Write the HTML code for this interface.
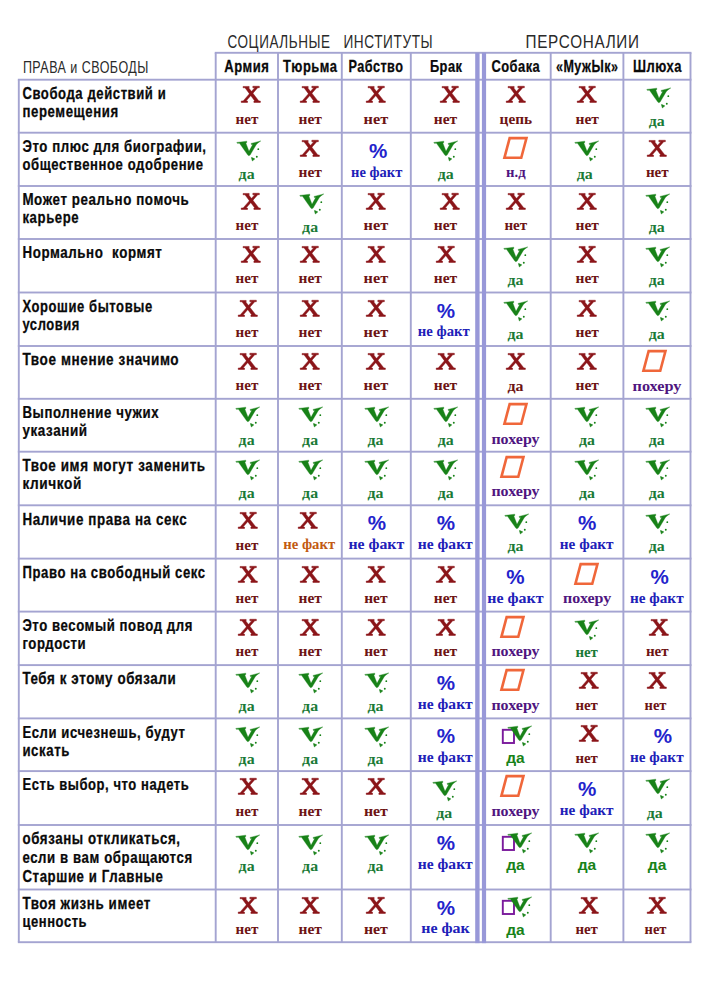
<!DOCTYPE html>
<html><head><meta charset="utf-8"><title>table</title>
<style>
html,body{margin:0;padding:0;background:#fff;}
body{width:712px;height:991px;position:relative;overflow:hidden;font-family:"Liberation Sans",sans-serif;}
.l{position:absolute;background:#a4a4d1;}
.t{position:absolute;white-space:nowrap;transform-origin:0 0;line-height:1;}
text{white-space:pre;}
.lb{font-family:"Liberation Sans",sans-serif;font-weight:bold;fill:#0a0a0a;stroke:#0a0a0a;stroke-width:0.25px;}
.hd{font-family:"Liberation Sans",sans-serif;font-weight:normal;fill:#2a2a2a;}
.sr{font-family:"Liberation Serif",serif;font-weight:bold;}
.ss{font-family:"Liberation Sans",sans-serif;font-weight:bold;}
svg{position:absolute;overflow:visible;}
</style></head><body>

<svg style="left:0;top:0" width="712" height="991" viewBox="0 0 712 991"><rect x="17.85" y="78.75" width="673.60" height="1.90" fill="#a4a4d1"/><rect x="17.85" y="131.75" width="673.60" height="1.90" fill="#a4a4d1"/><rect x="17.85" y="185.05" width="673.60" height="1.90" fill="#a4a4d1"/><rect x="17.85" y="238.05" width="673.60" height="1.90" fill="#a4a4d1"/><rect x="17.85" y="291.55" width="673.60" height="1.90" fill="#a4a4d1"/><rect x="17.85" y="345.05" width="673.60" height="1.90" fill="#a4a4d1"/><rect x="17.85" y="397.85" width="673.60" height="1.90" fill="#a4a4d1"/><rect x="17.85" y="450.75" width="673.60" height="1.90" fill="#a4a4d1"/><rect x="17.85" y="504.35" width="673.60" height="1.90" fill="#a4a4d1"/><rect x="17.85" y="557.65" width="673.60" height="1.90" fill="#a4a4d1"/><rect x="17.85" y="610.65" width="673.60" height="1.90" fill="#a4a4d1"/><rect x="17.85" y="664.15" width="673.60" height="1.90" fill="#a4a4d1"/><rect x="17.85" y="717.45" width="673.60" height="1.90" fill="#a4a4d1"/><rect x="17.85" y="770.15" width="673.60" height="1.90" fill="#a4a4d1"/><rect x="17.85" y="824.05" width="673.60" height="1.90" fill="#a4a4d1"/><rect x="17.85" y="888.55" width="673.60" height="1.90" fill="#a4a4d1"/><rect x="17.85" y="941.25" width="673.60" height="1.90" fill="#a4a4d1"/><rect x="214.75" y="51.85" width="476.70" height="1.90" fill="#a4a4d1"/><rect x="17.85" y="79.70" width="1.90" height="862.50" fill="#a4a4d1"/><rect x="214.75" y="52.80" width="1.90" height="889.40" fill="#a4a4d1"/><rect x="277.05" y="52.80" width="1.90" height="889.40" fill="#a4a4d1"/><rect x="340.85" y="52.80" width="1.90" height="889.40" fill="#a4a4d1"/><rect x="409.85" y="52.80" width="1.90" height="889.40" fill="#a4a4d1"/><rect x="549.75" y="52.80" width="1.90" height="889.40" fill="#a4a4d1"/><rect x="622.45" y="52.80" width="1.90" height="889.40" fill="#a4a4d1"/><rect x="689.55" y="52.80" width="1.90" height="889.40" fill="#a4a4d1"/><rect x="475.20" y="52.80" width="4.40" height="890.35" fill="#9898d8"/><rect x="481.90" y="52.80" width="4.20" height="890.35" fill="#9898d8"/></svg>
<svg style="left:240.65px;top:85.90px" width="21" height="18" viewBox="0 0 21 18"><g transform="translate(0.25,0.25) scale(0.965,0.965)" fill="#8b1519" stroke="#8b1519" stroke-width="0.52" stroke-linejoin="round"><path d="M1.9,0.2 L8.2,0.2 L8.2,1.6 L7.6,1.6 L18.2,15.2 L19.8,15.3 L19.8,16.8 L13.1,16.8 L13.1,15.3 L14.0,15.2 L3.9,1.6 L1.9,1.6 Z"/><path d="M12.0,0.0 L18.75,0.0 L18.75,1.5 L17.1,1.5 L5.0,15.2 L6.5,15.3 L6.5,16.8 L0,16.8 L0,15.3 L2.0,15.2 L14.0,1.5 L12.0,1.5 Z"/></g></svg>
<svg style="left:300.35px;top:85.90px" width="21" height="18" viewBox="0 0 21 18"><g transform="translate(0.25,0.25) scale(0.965,0.965)" fill="#8b1519" stroke="#8b1519" stroke-width="0.52" stroke-linejoin="round"><path d="M1.9,0.2 L8.2,0.2 L8.2,1.6 L7.6,1.6 L18.2,15.2 L19.8,15.3 L19.8,16.8 L13.1,16.8 L13.1,15.3 L14.0,15.2 L3.9,1.6 L1.9,1.6 Z"/><path d="M12.0,0.0 L18.75,0.0 L18.75,1.5 L17.1,1.5 L5.0,15.2 L6.5,15.3 L6.5,16.8 L0,16.8 L0,15.3 L2.0,15.2 L14.0,1.5 L12.0,1.5 Z"/></g></svg>
<svg style="left:366.35px;top:85.90px" width="21" height="18" viewBox="0 0 21 18"><g transform="translate(0.25,0.25) scale(0.965,0.965)" fill="#8b1519" stroke="#8b1519" stroke-width="0.52" stroke-linejoin="round"><path d="M1.9,0.2 L8.2,0.2 L8.2,1.6 L7.6,1.6 L18.2,15.2 L19.8,15.3 L19.8,16.8 L13.1,16.8 L13.1,15.3 L14.0,15.2 L3.9,1.6 L1.9,1.6 Z"/><path d="M12.0,0.0 L18.75,0.0 L18.75,1.5 L17.1,1.5 L5.0,15.2 L6.5,15.3 L6.5,16.8 L0,16.8 L0,15.3 L2.0,15.2 L14.0,1.5 L12.0,1.5 Z"/></g></svg>
<svg style="left:440.05px;top:85.90px" width="21" height="18" viewBox="0 0 21 18"><g transform="translate(0.25,0.25) scale(0.965,0.965)" fill="#8b1519" stroke="#8b1519" stroke-width="0.52" stroke-linejoin="round"><path d="M1.9,0.2 L8.2,0.2 L8.2,1.6 L7.6,1.6 L18.2,15.2 L19.8,15.3 L19.8,16.8 L13.1,16.8 L13.1,15.3 L14.0,15.2 L3.9,1.6 L1.9,1.6 Z"/><path d="M12.0,0.0 L18.75,0.0 L18.75,1.5 L17.1,1.5 L5.0,15.2 L6.5,15.3 L6.5,16.8 L0,16.8 L0,15.3 L2.0,15.2 L14.0,1.5 L12.0,1.5 Z"/></g></svg>
<svg style="left:505.65px;top:85.90px" width="21" height="18" viewBox="0 0 21 18"><g transform="translate(0.25,0.25) scale(0.965,0.965)" fill="#8b1519" stroke="#8b1519" stroke-width="0.52" stroke-linejoin="round"><path d="M1.9,0.2 L8.2,0.2 L8.2,1.6 L7.6,1.6 L18.2,15.2 L19.8,15.3 L19.8,16.8 L13.1,16.8 L13.1,15.3 L14.0,15.2 L3.9,1.6 L1.9,1.6 Z"/><path d="M12.0,0.0 L18.75,0.0 L18.75,1.5 L17.1,1.5 L5.0,15.2 L6.5,15.3 L6.5,16.8 L0,16.8 L0,15.3 L2.0,15.2 L14.0,1.5 L12.0,1.5 Z"/></g></svg>
<svg style="left:577.05px;top:85.90px" width="21" height="18" viewBox="0 0 21 18"><g transform="translate(0.25,0.25) scale(0.965,0.965)" fill="#8b1519" stroke="#8b1519" stroke-width="0.52" stroke-linejoin="round"><path d="M1.9,0.2 L8.2,0.2 L8.2,1.6 L7.6,1.6 L18.2,15.2 L19.8,15.3 L19.8,16.8 L13.1,16.8 L13.1,15.3 L14.0,15.2 L3.9,1.6 L1.9,1.6 Z"/><path d="M12.0,0.0 L18.75,0.0 L18.75,1.5 L17.1,1.5 L5.0,15.2 L6.5,15.3 L6.5,16.8 L0,16.8 L0,15.3 L2.0,15.2 L14.0,1.5 L12.0,1.5 Z"/></g></svg>
<svg style="left:641.90px;top:83.00px" width="32" height="28" viewBox="0 0 32 28"><g fill="#188218"><path d="M4.8,6.4 L14.8,5.2 L14.7,6.7 L13.8,6.9 L17.0,15.3 L20.7,8.5 L19.3,8.4 L19.1,7.4 L28.8,4.9 L26.0,6.9 L24.4,8.4 L18.1,19.1 L16.8,19.7 L15.8,19.1 L7.5,7.3 L5.2,7.3 Z" stroke="#188218" stroke-width="0.35" stroke-linejoin="round"/><circle cx="26.3" cy="13.2" r="0.9"/><circle cx="24.8" cy="20.8" r="0.95"/><path d="M19.6,21.6 L22.6,22.9 L20.4,24.8 Z" stroke="#188218" stroke-width="0.8" stroke-linejoin="round"/></g></svg>
<svg style="left:232.40px;top:136.00px" width="32" height="28" viewBox="0 0 32 28"><g fill="#188218"><path d="M4.8,6.4 L14.8,5.2 L14.7,6.7 L13.8,6.9 L17.0,15.3 L20.7,8.5 L19.3,8.4 L19.1,7.4 L28.8,4.9 L26.0,6.9 L24.4,8.4 L18.1,19.1 L16.8,19.7 L15.8,19.1 L7.5,7.3 L5.2,7.3 Z" stroke="#188218" stroke-width="0.35" stroke-linejoin="round"/><circle cx="26.3" cy="13.2" r="0.9"/><circle cx="24.8" cy="20.8" r="0.95"/><path d="M19.6,21.6 L22.6,22.9 L20.4,24.8 Z" stroke="#188218" stroke-width="0.8" stroke-linejoin="round"/></g></svg>
<svg style="left:300.35px;top:139.70px" width="21" height="18" viewBox="0 0 21 18"><g transform="translate(0.25,0.25) scale(0.965,0.965)" fill="#8b1519" stroke="#8b1519" stroke-width="0.52" stroke-linejoin="round"><path d="M1.9,0.2 L8.2,0.2 L8.2,1.6 L7.6,1.6 L18.2,15.2 L19.8,15.3 L19.8,16.8 L13.1,16.8 L13.1,15.3 L14.0,15.2 L3.9,1.6 L1.9,1.6 Z"/><path d="M12.0,0.0 L18.75,0.0 L18.75,1.5 L17.1,1.5 L5.0,15.2 L6.5,15.3 L6.5,16.8 L0,16.8 L0,15.3 L2.0,15.2 L14.0,1.5 L12.0,1.5 Z"/></g></svg>
<svg style="left:428.70px;top:136.00px" width="32" height="28" viewBox="0 0 32 28"><g fill="#188218"><path d="M4.8,6.4 L14.8,5.2 L14.7,6.7 L13.8,6.9 L17.0,15.3 L20.7,8.5 L19.3,8.4 L19.1,7.4 L28.8,4.9 L26.0,6.9 L24.4,8.4 L18.1,19.1 L16.8,19.7 L15.8,19.1 L7.5,7.3 L5.2,7.3 Z" stroke="#188218" stroke-width="0.35" stroke-linejoin="round"/><circle cx="26.3" cy="13.2" r="0.9"/><circle cx="24.8" cy="20.8" r="0.95"/><path d="M19.6,21.6 L22.6,22.9 L20.4,24.8 Z" stroke="#188218" stroke-width="0.8" stroke-linejoin="round"/></g></svg>
<svg style="left:502.75px;top:136.70px" width="26" height="23" viewBox="0 0 26 23"><path d="M6.65,1.1 L23.47,1.1 L18.25,20.8 L1.43,20.8 Z" fill="none" stroke="#f0673a" stroke-width="2.6"/></svg>
<svg style="left:570.20px;top:136.00px" width="32" height="28" viewBox="0 0 32 28"><g fill="#188218"><path d="M4.8,6.4 L14.8,5.2 L14.7,6.7 L13.8,6.9 L17.0,15.3 L20.7,8.5 L19.3,8.4 L19.1,7.4 L28.8,4.9 L26.0,6.9 L24.4,8.4 L18.1,19.1 L16.8,19.7 L15.8,19.1 L7.5,7.3 L5.2,7.3 Z" stroke="#188218" stroke-width="0.35" stroke-linejoin="round"/><circle cx="26.3" cy="13.2" r="0.9"/><circle cx="24.8" cy="20.8" r="0.95"/><path d="M19.6,21.6 L22.6,22.9 L20.4,24.8 Z" stroke="#188218" stroke-width="0.8" stroke-linejoin="round"/></g></svg>
<svg style="left:646.95px;top:139.70px" width="21" height="18" viewBox="0 0 21 18"><g transform="translate(0.25,0.25) scale(0.965,0.965)" fill="#8b1519" stroke="#8b1519" stroke-width="0.52" stroke-linejoin="round"><path d="M1.9,0.2 L8.2,0.2 L8.2,1.6 L7.6,1.6 L18.2,15.2 L19.8,15.3 L19.8,16.8 L13.1,16.8 L13.1,15.3 L14.0,15.2 L3.9,1.6 L1.9,1.6 Z"/><path d="M12.0,0.0 L18.75,0.0 L18.75,1.5 L17.1,1.5 L5.0,15.2 L6.5,15.3 L6.5,16.8 L0,16.8 L0,15.3 L2.0,15.2 L14.0,1.5 L12.0,1.5 Z"/></g></svg>
<svg style="left:240.65px;top:193.00px" width="21" height="18" viewBox="0 0 21 18"><g transform="translate(0.25,0.25) scale(0.965,0.965)" fill="#8b1519" stroke="#8b1519" stroke-width="0.52" stroke-linejoin="round"><path d="M1.9,0.2 L8.2,0.2 L8.2,1.6 L7.6,1.6 L18.2,15.2 L19.8,15.3 L19.8,16.8 L13.1,16.8 L13.1,15.3 L14.0,15.2 L3.9,1.6 L1.9,1.6 Z"/><path d="M12.0,0.0 L18.75,0.0 L18.75,1.5 L17.1,1.5 L5.0,15.2 L6.5,15.3 L6.5,16.8 L0,16.8 L0,15.3 L2.0,15.2 L14.0,1.5 L12.0,1.5 Z"/></g></svg>
<svg style="left:295.20px;top:189.30px" width="32" height="28" viewBox="0 0 32 28"><g fill="#188218"><path d="M4.8,6.4 L14.8,5.2 L14.7,6.7 L13.8,6.9 L17.0,15.3 L20.7,8.5 L19.3,8.4 L19.1,7.4 L28.8,4.9 L26.0,6.9 L24.4,8.4 L18.1,19.1 L16.8,19.7 L15.8,19.1 L7.5,7.3 L5.2,7.3 Z" stroke="#188218" stroke-width="0.35" stroke-linejoin="round"/><circle cx="26.3" cy="13.2" r="0.9"/><circle cx="24.8" cy="20.8" r="0.95"/><path d="M19.6,21.6 L22.6,22.9 L20.4,24.8 Z" stroke="#188218" stroke-width="0.8" stroke-linejoin="round"/></g></svg>
<svg style="left:366.35px;top:193.00px" width="21" height="18" viewBox="0 0 21 18"><g transform="translate(0.25,0.25) scale(0.965,0.965)" fill="#8b1519" stroke="#8b1519" stroke-width="0.52" stroke-linejoin="round"><path d="M1.9,0.2 L8.2,0.2 L8.2,1.6 L7.6,1.6 L18.2,15.2 L19.8,15.3 L19.8,16.8 L13.1,16.8 L13.1,15.3 L14.0,15.2 L3.9,1.6 L1.9,1.6 Z"/><path d="M12.0,0.0 L18.75,0.0 L18.75,1.5 L17.1,1.5 L5.0,15.2 L6.5,15.3 L6.5,16.8 L0,16.8 L0,15.3 L2.0,15.2 L14.0,1.5 L12.0,1.5 Z"/></g></svg>
<svg style="left:440.05px;top:193.00px" width="21" height="18" viewBox="0 0 21 18"><g transform="translate(0.25,0.25) scale(0.965,0.965)" fill="#8b1519" stroke="#8b1519" stroke-width="0.52" stroke-linejoin="round"><path d="M1.9,0.2 L8.2,0.2 L8.2,1.6 L7.6,1.6 L18.2,15.2 L19.8,15.3 L19.8,16.8 L13.1,16.8 L13.1,15.3 L14.0,15.2 L3.9,1.6 L1.9,1.6 Z"/><path d="M12.0,0.0 L18.75,0.0 L18.75,1.5 L17.1,1.5 L5.0,15.2 L6.5,15.3 L6.5,16.8 L0,16.8 L0,15.3 L2.0,15.2 L14.0,1.5 L12.0,1.5 Z"/></g></svg>
<svg style="left:505.65px;top:193.00px" width="21" height="18" viewBox="0 0 21 18"><g transform="translate(0.25,0.25) scale(0.965,0.965)" fill="#8b1519" stroke="#8b1519" stroke-width="0.52" stroke-linejoin="round"><path d="M1.9,0.2 L8.2,0.2 L8.2,1.6 L7.6,1.6 L18.2,15.2 L19.8,15.3 L19.8,16.8 L13.1,16.8 L13.1,15.3 L14.0,15.2 L3.9,1.6 L1.9,1.6 Z"/><path d="M12.0,0.0 L18.75,0.0 L18.75,1.5 L17.1,1.5 L5.0,15.2 L6.5,15.3 L6.5,16.8 L0,16.8 L0,15.3 L2.0,15.2 L14.0,1.5 L12.0,1.5 Z"/></g></svg>
<svg style="left:577.05px;top:193.00px" width="21" height="18" viewBox="0 0 21 18"><g transform="translate(0.25,0.25) scale(0.965,0.965)" fill="#8b1519" stroke="#8b1519" stroke-width="0.52" stroke-linejoin="round"><path d="M1.9,0.2 L8.2,0.2 L8.2,1.6 L7.6,1.6 L18.2,15.2 L19.8,15.3 L19.8,16.8 L13.1,16.8 L13.1,15.3 L14.0,15.2 L3.9,1.6 L1.9,1.6 Z"/><path d="M12.0,0.0 L18.75,0.0 L18.75,1.5 L17.1,1.5 L5.0,15.2 L6.5,15.3 L6.5,16.8 L0,16.8 L0,15.3 L2.0,15.2 L14.0,1.5 L12.0,1.5 Z"/></g></svg>
<svg style="left:641.10px;top:189.30px" width="32" height="28" viewBox="0 0 32 28"><g fill="#188218"><path d="M4.8,6.4 L14.8,5.2 L14.7,6.7 L13.8,6.9 L17.0,15.3 L20.7,8.5 L19.3,8.4 L19.1,7.4 L28.8,4.9 L26.0,6.9 L24.4,8.4 L18.1,19.1 L16.8,19.7 L15.8,19.1 L7.5,7.3 L5.2,7.3 Z" stroke="#188218" stroke-width="0.35" stroke-linejoin="round"/><circle cx="26.3" cy="13.2" r="0.9"/><circle cx="24.8" cy="20.8" r="0.95"/><path d="M19.6,21.6 L22.6,22.9 L20.4,24.8 Z" stroke="#188218" stroke-width="0.8" stroke-linejoin="round"/></g></svg>
<svg style="left:240.65px;top:246.00px" width="21" height="18" viewBox="0 0 21 18"><g transform="translate(0.25,0.25) scale(0.965,0.965)" fill="#8b1519" stroke="#8b1519" stroke-width="0.52" stroke-linejoin="round"><path d="M1.9,0.2 L8.2,0.2 L8.2,1.6 L7.6,1.6 L18.2,15.2 L19.8,15.3 L19.8,16.8 L13.1,16.8 L13.1,15.3 L14.0,15.2 L3.9,1.6 L1.9,1.6 Z"/><path d="M12.0,0.0 L18.75,0.0 L18.75,1.5 L17.1,1.5 L5.0,15.2 L6.5,15.3 L6.5,16.8 L0,16.8 L0,15.3 L2.0,15.2 L14.0,1.5 L12.0,1.5 Z"/></g></svg>
<svg style="left:300.35px;top:246.00px" width="21" height="18" viewBox="0 0 21 18"><g transform="translate(0.25,0.25) scale(0.965,0.965)" fill="#8b1519" stroke="#8b1519" stroke-width="0.52" stroke-linejoin="round"><path d="M1.9,0.2 L8.2,0.2 L8.2,1.6 L7.6,1.6 L18.2,15.2 L19.8,15.3 L19.8,16.8 L13.1,16.8 L13.1,15.3 L14.0,15.2 L3.9,1.6 L1.9,1.6 Z"/><path d="M12.0,0.0 L18.75,0.0 L18.75,1.5 L17.1,1.5 L5.0,15.2 L6.5,15.3 L6.5,16.8 L0,16.8 L0,15.3 L2.0,15.2 L14.0,1.5 L12.0,1.5 Z"/></g></svg>
<svg style="left:366.35px;top:246.00px" width="21" height="18" viewBox="0 0 21 18"><g transform="translate(0.25,0.25) scale(0.965,0.965)" fill="#8b1519" stroke="#8b1519" stroke-width="0.52" stroke-linejoin="round"><path d="M1.9,0.2 L8.2,0.2 L8.2,1.6 L7.6,1.6 L18.2,15.2 L19.8,15.3 L19.8,16.8 L13.1,16.8 L13.1,15.3 L14.0,15.2 L3.9,1.6 L1.9,1.6 Z"/><path d="M12.0,0.0 L18.75,0.0 L18.75,1.5 L17.1,1.5 L5.0,15.2 L6.5,15.3 L6.5,16.8 L0,16.8 L0,15.3 L2.0,15.2 L14.0,1.5 L12.0,1.5 Z"/></g></svg>
<svg style="left:435.55px;top:246.00px" width="21" height="18" viewBox="0 0 21 18"><g transform="translate(0.25,0.25) scale(0.965,0.965)" fill="#8b1519" stroke="#8b1519" stroke-width="0.52" stroke-linejoin="round"><path d="M1.9,0.2 L8.2,0.2 L8.2,1.6 L7.6,1.6 L18.2,15.2 L19.8,15.3 L19.8,16.8 L13.1,16.8 L13.1,15.3 L14.0,15.2 L3.9,1.6 L1.9,1.6 Z"/><path d="M12.0,0.0 L18.75,0.0 L18.75,1.5 L17.1,1.5 L5.0,15.2 L6.5,15.3 L6.5,16.8 L0,16.8 L0,15.3 L2.0,15.2 L14.0,1.5 L12.0,1.5 Z"/></g></svg>
<svg style="left:498.60px;top:242.30px" width="32" height="28" viewBox="0 0 32 28"><g fill="#188218"><path d="M4.8,6.4 L14.8,5.2 L14.7,6.7 L13.8,6.9 L17.0,15.3 L20.7,8.5 L19.3,8.4 L19.1,7.4 L28.8,4.9 L26.0,6.9 L24.4,8.4 L18.1,19.1 L16.8,19.7 L15.8,19.1 L7.5,7.3 L5.2,7.3 Z" stroke="#188218" stroke-width="0.35" stroke-linejoin="round"/><circle cx="26.3" cy="13.2" r="0.9"/><circle cx="24.8" cy="20.8" r="0.95"/><path d="M19.6,21.6 L22.6,22.9 L20.4,24.8 Z" stroke="#188218" stroke-width="0.8" stroke-linejoin="round"/></g></svg>
<svg style="left:577.05px;top:246.00px" width="21" height="18" viewBox="0 0 21 18"><g transform="translate(0.25,0.25) scale(0.965,0.965)" fill="#8b1519" stroke="#8b1519" stroke-width="0.52" stroke-linejoin="round"><path d="M1.9,0.2 L8.2,0.2 L8.2,1.6 L7.6,1.6 L18.2,15.2 L19.8,15.3 L19.8,16.8 L13.1,16.8 L13.1,15.3 L14.0,15.2 L3.9,1.6 L1.9,1.6 Z"/><path d="M12.0,0.0 L18.75,0.0 L18.75,1.5 L17.1,1.5 L5.0,15.2 L6.5,15.3 L6.5,16.8 L0,16.8 L0,15.3 L2.0,15.2 L14.0,1.5 L12.0,1.5 Z"/></g></svg>
<svg style="left:640.50px;top:242.30px" width="32" height="28" viewBox="0 0 32 28"><g fill="#188218"><path d="M4.8,6.4 L14.8,5.2 L14.7,6.7 L13.8,6.9 L17.0,15.3 L20.7,8.5 L19.3,8.4 L19.1,7.4 L28.8,4.9 L26.0,6.9 L24.4,8.4 L18.1,19.1 L16.8,19.7 L15.8,19.1 L7.5,7.3 L5.2,7.3 Z" stroke="#188218" stroke-width="0.35" stroke-linejoin="round"/><circle cx="26.3" cy="13.2" r="0.9"/><circle cx="24.8" cy="20.8" r="0.95"/><path d="M19.6,21.6 L22.6,22.9 L20.4,24.8 Z" stroke="#188218" stroke-width="0.8" stroke-linejoin="round"/></g></svg>
<svg style="left:237.75px;top:299.50px" width="21" height="18" viewBox="0 0 21 18"><g transform="translate(0.25,0.25) scale(0.965,0.965)" fill="#8b1519" stroke="#8b1519" stroke-width="0.52" stroke-linejoin="round"><path d="M1.9,0.2 L8.2,0.2 L8.2,1.6 L7.6,1.6 L18.2,15.2 L19.8,15.3 L19.8,16.8 L13.1,16.8 L13.1,15.3 L14.0,15.2 L3.9,1.6 L1.9,1.6 Z"/><path d="M12.0,0.0 L18.75,0.0 L18.75,1.5 L17.1,1.5 L5.0,15.2 L6.5,15.3 L6.5,16.8 L0,16.8 L0,15.3 L2.0,15.2 L14.0,1.5 L12.0,1.5 Z"/></g></svg>
<svg style="left:300.35px;top:299.50px" width="21" height="18" viewBox="0 0 21 18"><g transform="translate(0.25,0.25) scale(0.965,0.965)" fill="#8b1519" stroke="#8b1519" stroke-width="0.52" stroke-linejoin="round"><path d="M1.9,0.2 L8.2,0.2 L8.2,1.6 L7.6,1.6 L18.2,15.2 L19.8,15.3 L19.8,16.8 L13.1,16.8 L13.1,15.3 L14.0,15.2 L3.9,1.6 L1.9,1.6 Z"/><path d="M12.0,0.0 L18.75,0.0 L18.75,1.5 L17.1,1.5 L5.0,15.2 L6.5,15.3 L6.5,16.8 L0,16.8 L0,15.3 L2.0,15.2 L14.0,1.5 L12.0,1.5 Z"/></g></svg>
<svg style="left:366.35px;top:299.50px" width="21" height="18" viewBox="0 0 21 18"><g transform="translate(0.25,0.25) scale(0.965,0.965)" fill="#8b1519" stroke="#8b1519" stroke-width="0.52" stroke-linejoin="round"><path d="M1.9,0.2 L8.2,0.2 L8.2,1.6 L7.6,1.6 L18.2,15.2 L19.8,15.3 L19.8,16.8 L13.1,16.8 L13.1,15.3 L14.0,15.2 L3.9,1.6 L1.9,1.6 Z"/><path d="M12.0,0.0 L18.75,0.0 L18.75,1.5 L17.1,1.5 L5.0,15.2 L6.5,15.3 L6.5,16.8 L0,16.8 L0,15.3 L2.0,15.2 L14.0,1.5 L12.0,1.5 Z"/></g></svg>
<svg style="left:498.60px;top:295.80px" width="32" height="28" viewBox="0 0 32 28"><g fill="#188218"><path d="M4.8,6.4 L14.8,5.2 L14.7,6.7 L13.8,6.9 L17.0,15.3 L20.7,8.5 L19.3,8.4 L19.1,7.4 L28.8,4.9 L26.0,6.9 L24.4,8.4 L18.1,19.1 L16.8,19.7 L15.8,19.1 L7.5,7.3 L5.2,7.3 Z" stroke="#188218" stroke-width="0.35" stroke-linejoin="round"/><circle cx="26.3" cy="13.2" r="0.9"/><circle cx="24.8" cy="20.8" r="0.95"/><path d="M19.6,21.6 L22.6,22.9 L20.4,24.8 Z" stroke="#188218" stroke-width="0.8" stroke-linejoin="round"/></g></svg>
<svg style="left:577.05px;top:299.50px" width="21" height="18" viewBox="0 0 21 18"><g transform="translate(0.25,0.25) scale(0.965,0.965)" fill="#8b1519" stroke="#8b1519" stroke-width="0.52" stroke-linejoin="round"><path d="M1.9,0.2 L8.2,0.2 L8.2,1.6 L7.6,1.6 L18.2,15.2 L19.8,15.3 L19.8,16.8 L13.1,16.8 L13.1,15.3 L14.0,15.2 L3.9,1.6 L1.9,1.6 Z"/><path d="M12.0,0.0 L18.75,0.0 L18.75,1.5 L17.1,1.5 L5.0,15.2 L6.5,15.3 L6.5,16.8 L0,16.8 L0,15.3 L2.0,15.2 L14.0,1.5 L12.0,1.5 Z"/></g></svg>
<svg style="left:640.50px;top:295.80px" width="32" height="28" viewBox="0 0 32 28"><g fill="#188218"><path d="M4.8,6.4 L14.8,5.2 L14.7,6.7 L13.8,6.9 L17.0,15.3 L20.7,8.5 L19.3,8.4 L19.1,7.4 L28.8,4.9 L26.0,6.9 L24.4,8.4 L18.1,19.1 L16.8,19.7 L15.8,19.1 L7.5,7.3 L5.2,7.3 Z" stroke="#188218" stroke-width="0.35" stroke-linejoin="round"/><circle cx="26.3" cy="13.2" r="0.9"/><circle cx="24.8" cy="20.8" r="0.95"/><path d="M19.6,21.6 L22.6,22.9 L20.4,24.8 Z" stroke="#188218" stroke-width="0.8" stroke-linejoin="round"/></g></svg>
<svg style="left:237.75px;top:353.00px" width="21" height="18" viewBox="0 0 21 18"><g transform="translate(0.25,0.25) scale(0.965,0.965)" fill="#8b1519" stroke="#8b1519" stroke-width="0.52" stroke-linejoin="round"><path d="M1.9,0.2 L8.2,0.2 L8.2,1.6 L7.6,1.6 L18.2,15.2 L19.8,15.3 L19.8,16.8 L13.1,16.8 L13.1,15.3 L14.0,15.2 L3.9,1.6 L1.9,1.6 Z"/><path d="M12.0,0.0 L18.75,0.0 L18.75,1.5 L17.1,1.5 L5.0,15.2 L6.5,15.3 L6.5,16.8 L0,16.8 L0,15.3 L2.0,15.2 L14.0,1.5 L12.0,1.5 Z"/></g></svg>
<svg style="left:300.35px;top:353.00px" width="21" height="18" viewBox="0 0 21 18"><g transform="translate(0.25,0.25) scale(0.965,0.965)" fill="#8b1519" stroke="#8b1519" stroke-width="0.52" stroke-linejoin="round"><path d="M1.9,0.2 L8.2,0.2 L8.2,1.6 L7.6,1.6 L18.2,15.2 L19.8,15.3 L19.8,16.8 L13.1,16.8 L13.1,15.3 L14.0,15.2 L3.9,1.6 L1.9,1.6 Z"/><path d="M12.0,0.0 L18.75,0.0 L18.75,1.5 L17.1,1.5 L5.0,15.2 L6.5,15.3 L6.5,16.8 L0,16.8 L0,15.3 L2.0,15.2 L14.0,1.5 L12.0,1.5 Z"/></g></svg>
<svg style="left:366.35px;top:353.00px" width="21" height="18" viewBox="0 0 21 18"><g transform="translate(0.25,0.25) scale(0.965,0.965)" fill="#8b1519" stroke="#8b1519" stroke-width="0.52" stroke-linejoin="round"><path d="M1.9,0.2 L8.2,0.2 L8.2,1.6 L7.6,1.6 L18.2,15.2 L19.8,15.3 L19.8,16.8 L13.1,16.8 L13.1,15.3 L14.0,15.2 L3.9,1.6 L1.9,1.6 Z"/><path d="M12.0,0.0 L18.75,0.0 L18.75,1.5 L17.1,1.5 L5.0,15.2 L6.5,15.3 L6.5,16.8 L0,16.8 L0,15.3 L2.0,15.2 L14.0,1.5 L12.0,1.5 Z"/></g></svg>
<svg style="left:435.55px;top:353.00px" width="21" height="18" viewBox="0 0 21 18"><g transform="translate(0.25,0.25) scale(0.965,0.965)" fill="#8b1519" stroke="#8b1519" stroke-width="0.52" stroke-linejoin="round"><path d="M1.9,0.2 L8.2,0.2 L8.2,1.6 L7.6,1.6 L18.2,15.2 L19.8,15.3 L19.8,16.8 L13.1,16.8 L13.1,15.3 L14.0,15.2 L3.9,1.6 L1.9,1.6 Z"/><path d="M12.0,0.0 L18.75,0.0 L18.75,1.5 L17.1,1.5 L5.0,15.2 L6.5,15.3 L6.5,16.8 L0,16.8 L0,15.3 L2.0,15.2 L14.0,1.5 L12.0,1.5 Z"/></g></svg>
<svg style="left:505.65px;top:353.00px" width="21" height="18" viewBox="0 0 21 18"><g transform="translate(0.25,0.25) scale(0.965,0.965)" fill="#8b1519" stroke="#8b1519" stroke-width="0.52" stroke-linejoin="round"><path d="M1.9,0.2 L8.2,0.2 L8.2,1.6 L7.6,1.6 L18.2,15.2 L19.8,15.3 L19.8,16.8 L13.1,16.8 L13.1,15.3 L14.0,15.2 L3.9,1.6 L1.9,1.6 Z"/><path d="M12.0,0.0 L18.75,0.0 L18.75,1.5 L17.1,1.5 L5.0,15.2 L6.5,15.3 L6.5,16.8 L0,16.8 L0,15.3 L2.0,15.2 L14.0,1.5 L12.0,1.5 Z"/></g></svg>
<svg style="left:577.05px;top:353.00px" width="21" height="18" viewBox="0 0 21 18"><g transform="translate(0.25,0.25) scale(0.965,0.965)" fill="#8b1519" stroke="#8b1519" stroke-width="0.52" stroke-linejoin="round"><path d="M1.9,0.2 L8.2,0.2 L8.2,1.6 L7.6,1.6 L18.2,15.2 L19.8,15.3 L19.8,16.8 L13.1,16.8 L13.1,15.3 L14.0,15.2 L3.9,1.6 L1.9,1.6 Z"/><path d="M12.0,0.0 L18.75,0.0 L18.75,1.5 L17.1,1.5 L5.0,15.2 L6.5,15.3 L6.5,16.8 L0,16.8 L0,15.3 L2.0,15.2 L14.0,1.5 L12.0,1.5 Z"/></g></svg>
<svg style="left:642.25px;top:350.00px" width="26" height="23" viewBox="0 0 26 23"><path d="M6.65,1.1 L23.47,1.1 L18.25,20.8 L1.43,20.8 Z" fill="none" stroke="#f0673a" stroke-width="2.6"/></svg>
<svg style="left:230.70px;top:402.10px" width="32" height="28" viewBox="0 0 32 28"><g fill="#188218"><path d="M4.8,6.4 L14.8,5.2 L14.7,6.7 L13.8,6.9 L17.0,15.3 L20.7,8.5 L19.3,8.4 L19.1,7.4 L28.8,4.9 L26.0,6.9 L24.4,8.4 L18.1,19.1 L16.8,19.7 L15.8,19.1 L7.5,7.3 L5.2,7.3 Z" stroke="#188218" stroke-width="0.35" stroke-linejoin="round"/><circle cx="26.3" cy="13.2" r="0.9"/><circle cx="24.8" cy="20.8" r="0.95"/><path d="M19.6,21.6 L22.6,22.9 L20.4,24.8 Z" stroke="#188218" stroke-width="0.8" stroke-linejoin="round"/></g></svg>
<svg style="left:294.10px;top:402.10px" width="32" height="28" viewBox="0 0 32 28"><g fill="#188218"><path d="M4.8,6.4 L14.8,5.2 L14.7,6.7 L13.8,6.9 L17.0,15.3 L20.7,8.5 L19.3,8.4 L19.1,7.4 L28.8,4.9 L26.0,6.9 L24.4,8.4 L18.1,19.1 L16.8,19.7 L15.8,19.1 L7.5,7.3 L5.2,7.3 Z" stroke="#188218" stroke-width="0.35" stroke-linejoin="round"/><circle cx="26.3" cy="13.2" r="0.9"/><circle cx="24.8" cy="20.8" r="0.95"/><path d="M19.6,21.6 L22.6,22.9 L20.4,24.8 Z" stroke="#188218" stroke-width="0.8" stroke-linejoin="round"/></g></svg>
<svg style="left:359.70px;top:402.10px" width="32" height="28" viewBox="0 0 32 28"><g fill="#188218"><path d="M4.8,6.4 L14.8,5.2 L14.7,6.7 L13.8,6.9 L17.0,15.3 L20.7,8.5 L19.3,8.4 L19.1,7.4 L28.8,4.9 L26.0,6.9 L24.4,8.4 L18.1,19.1 L16.8,19.7 L15.8,19.1 L7.5,7.3 L5.2,7.3 Z" stroke="#188218" stroke-width="0.35" stroke-linejoin="round"/><circle cx="26.3" cy="13.2" r="0.9"/><circle cx="24.8" cy="20.8" r="0.95"/><path d="M19.6,21.6 L22.6,22.9 L20.4,24.8 Z" stroke="#188218" stroke-width="0.8" stroke-linejoin="round"/></g></svg>
<svg style="left:428.70px;top:402.10px" width="32" height="28" viewBox="0 0 32 28"><g fill="#188218"><path d="M4.8,6.4 L14.8,5.2 L14.7,6.7 L13.8,6.9 L17.0,15.3 L20.7,8.5 L19.3,8.4 L19.1,7.4 L28.8,4.9 L26.0,6.9 L24.4,8.4 L18.1,19.1 L16.8,19.7 L15.8,19.1 L7.5,7.3 L5.2,7.3 Z" stroke="#188218" stroke-width="0.35" stroke-linejoin="round"/><circle cx="26.3" cy="13.2" r="0.9"/><circle cx="24.8" cy="20.8" r="0.95"/><path d="M19.6,21.6 L22.6,22.9 L20.4,24.8 Z" stroke="#188218" stroke-width="0.8" stroke-linejoin="round"/></g></svg>
<svg style="left:502.75px;top:402.80px" width="26" height="23" viewBox="0 0 26 23"><path d="M6.65,1.1 L23.47,1.1 L18.25,20.8 L1.43,20.8 Z" fill="none" stroke="#f0673a" stroke-width="2.6"/></svg>
<svg style="left:570.20px;top:402.10px" width="32" height="28" viewBox="0 0 32 28"><g fill="#188218"><path d="M4.8,6.4 L14.8,5.2 L14.7,6.7 L13.8,6.9 L17.0,15.3 L20.7,8.5 L19.3,8.4 L19.1,7.4 L28.8,4.9 L26.0,6.9 L24.4,8.4 L18.1,19.1 L16.8,19.7 L15.8,19.1 L7.5,7.3 L5.2,7.3 Z" stroke="#188218" stroke-width="0.35" stroke-linejoin="round"/><circle cx="26.3" cy="13.2" r="0.9"/><circle cx="24.8" cy="20.8" r="0.95"/><path d="M19.6,21.6 L22.6,22.9 L20.4,24.8 Z" stroke="#188218" stroke-width="0.8" stroke-linejoin="round"/></g></svg>
<svg style="left:640.50px;top:402.10px" width="32" height="28" viewBox="0 0 32 28"><g fill="#188218"><path d="M4.8,6.4 L14.8,5.2 L14.7,6.7 L13.8,6.9 L17.0,15.3 L20.7,8.5 L19.3,8.4 L19.1,7.4 L28.8,4.9 L26.0,6.9 L24.4,8.4 L18.1,19.1 L16.8,19.7 L15.8,19.1 L7.5,7.3 L5.2,7.3 Z" stroke="#188218" stroke-width="0.35" stroke-linejoin="round"/><circle cx="26.3" cy="13.2" r="0.9"/><circle cx="24.8" cy="20.8" r="0.95"/><path d="M19.6,21.6 L22.6,22.9 L20.4,24.8 Z" stroke="#188218" stroke-width="0.8" stroke-linejoin="round"/></g></svg>
<svg style="left:230.70px;top:455.00px" width="32" height="28" viewBox="0 0 32 28"><g fill="#188218"><path d="M4.8,6.4 L14.8,5.2 L14.7,6.7 L13.8,6.9 L17.0,15.3 L20.7,8.5 L19.3,8.4 L19.1,7.4 L28.8,4.9 L26.0,6.9 L24.4,8.4 L18.1,19.1 L16.8,19.7 L15.8,19.1 L7.5,7.3 L5.2,7.3 Z" stroke="#188218" stroke-width="0.35" stroke-linejoin="round"/><circle cx="26.3" cy="13.2" r="0.9"/><circle cx="24.8" cy="20.8" r="0.95"/><path d="M19.6,21.6 L22.6,22.9 L20.4,24.8 Z" stroke="#188218" stroke-width="0.8" stroke-linejoin="round"/></g></svg>
<svg style="left:294.10px;top:455.00px" width="32" height="28" viewBox="0 0 32 28"><g fill="#188218"><path d="M4.8,6.4 L14.8,5.2 L14.7,6.7 L13.8,6.9 L17.0,15.3 L20.7,8.5 L19.3,8.4 L19.1,7.4 L28.8,4.9 L26.0,6.9 L24.4,8.4 L18.1,19.1 L16.8,19.7 L15.8,19.1 L7.5,7.3 L5.2,7.3 Z" stroke="#188218" stroke-width="0.35" stroke-linejoin="round"/><circle cx="26.3" cy="13.2" r="0.9"/><circle cx="24.8" cy="20.8" r="0.95"/><path d="M19.6,21.6 L22.6,22.9 L20.4,24.8 Z" stroke="#188218" stroke-width="0.8" stroke-linejoin="round"/></g></svg>
<svg style="left:359.70px;top:455.00px" width="32" height="28" viewBox="0 0 32 28"><g fill="#188218"><path d="M4.8,6.4 L14.8,5.2 L14.7,6.7 L13.8,6.9 L17.0,15.3 L20.7,8.5 L19.3,8.4 L19.1,7.4 L28.8,4.9 L26.0,6.9 L24.4,8.4 L18.1,19.1 L16.8,19.7 L15.8,19.1 L7.5,7.3 L5.2,7.3 Z" stroke="#188218" stroke-width="0.35" stroke-linejoin="round"/><circle cx="26.3" cy="13.2" r="0.9"/><circle cx="24.8" cy="20.8" r="0.95"/><path d="M19.6,21.6 L22.6,22.9 L20.4,24.8 Z" stroke="#188218" stroke-width="0.8" stroke-linejoin="round"/></g></svg>
<svg style="left:428.70px;top:455.00px" width="32" height="28" viewBox="0 0 32 28"><g fill="#188218"><path d="M4.8,6.4 L14.8,5.2 L14.7,6.7 L13.8,6.9 L17.0,15.3 L20.7,8.5 L19.3,8.4 L19.1,7.4 L28.8,4.9 L26.0,6.9 L24.4,8.4 L18.1,19.1 L16.8,19.7 L15.8,19.1 L7.5,7.3 L5.2,7.3 Z" stroke="#188218" stroke-width="0.35" stroke-linejoin="round"/><circle cx="26.3" cy="13.2" r="0.9"/><circle cx="24.8" cy="20.8" r="0.95"/><path d="M19.6,21.6 L22.6,22.9 L20.4,24.8 Z" stroke="#188218" stroke-width="0.8" stroke-linejoin="round"/></g></svg>
<svg style="left:500.45px;top:455.70px" width="26" height="23" viewBox="0 0 26 23"><path d="M6.65,1.1 L23.47,1.1 L18.25,20.8 L1.43,20.8 Z" fill="none" stroke="#f0673a" stroke-width="2.6"/></svg>
<svg style="left:570.20px;top:455.00px" width="32" height="28" viewBox="0 0 32 28"><g fill="#188218"><path d="M4.8,6.4 L14.8,5.2 L14.7,6.7 L13.8,6.9 L17.0,15.3 L20.7,8.5 L19.3,8.4 L19.1,7.4 L28.8,4.9 L26.0,6.9 L24.4,8.4 L18.1,19.1 L16.8,19.7 L15.8,19.1 L7.5,7.3 L5.2,7.3 Z" stroke="#188218" stroke-width="0.35" stroke-linejoin="round"/><circle cx="26.3" cy="13.2" r="0.9"/><circle cx="24.8" cy="20.8" r="0.95"/><path d="M19.6,21.6 L22.6,22.9 L20.4,24.8 Z" stroke="#188218" stroke-width="0.8" stroke-linejoin="round"/></g></svg>
<svg style="left:640.50px;top:455.00px" width="32" height="28" viewBox="0 0 32 28"><g fill="#188218"><path d="M4.8,6.4 L14.8,5.2 L14.7,6.7 L13.8,6.9 L17.0,15.3 L20.7,8.5 L19.3,8.4 L19.1,7.4 L28.8,4.9 L26.0,6.9 L24.4,8.4 L18.1,19.1 L16.8,19.7 L15.8,19.1 L7.5,7.3 L5.2,7.3 Z" stroke="#188218" stroke-width="0.35" stroke-linejoin="round"/><circle cx="26.3" cy="13.2" r="0.9"/><circle cx="24.8" cy="20.8" r="0.95"/><path d="M19.6,21.6 L22.6,22.9 L20.4,24.8 Z" stroke="#188218" stroke-width="0.8" stroke-linejoin="round"/></g></svg>
<svg style="left:237.75px;top:512.30px" width="21" height="18" viewBox="0 0 21 18"><g transform="translate(0.25,0.25) scale(0.965,0.965)" fill="#8b1519" stroke="#8b1519" stroke-width="0.52" stroke-linejoin="round"><path d="M1.9,0.2 L8.2,0.2 L8.2,1.6 L7.6,1.6 L18.2,15.2 L19.8,15.3 L19.8,16.8 L13.1,16.8 L13.1,15.3 L14.0,15.2 L3.9,1.6 L1.9,1.6 Z"/><path d="M12.0,0.0 L18.75,0.0 L18.75,1.5 L17.1,1.5 L5.0,15.2 L6.5,15.3 L6.5,16.8 L0,16.8 L0,15.3 L2.0,15.2 L14.0,1.5 L12.0,1.5 Z"/></g></svg>
<svg style="left:297.65px;top:512.30px" width="21" height="18" viewBox="0 0 21 18"><g transform="translate(0.25,0.25) scale(0.965,0.965)" fill="#8b1519" stroke="#8b1519" stroke-width="0.52" stroke-linejoin="round"><path d="M1.9,0.2 L8.2,0.2 L8.2,1.6 L7.6,1.6 L18.2,15.2 L19.8,15.3 L19.8,16.8 L13.1,16.8 L13.1,15.3 L14.0,15.2 L3.9,1.6 L1.9,1.6 Z"/><path d="M12.0,0.0 L18.75,0.0 L18.75,1.5 L17.1,1.5 L5.0,15.2 L6.5,15.3 L6.5,16.8 L0,16.8 L0,15.3 L2.0,15.2 L14.0,1.5 L12.0,1.5 Z"/></g></svg>
<svg style="left:500.00px;top:508.60px" width="32" height="28" viewBox="0 0 32 28"><g fill="#188218"><path d="M4.8,6.4 L14.8,5.2 L14.7,6.7 L13.8,6.9 L17.0,15.3 L20.7,8.5 L19.3,8.4 L19.1,7.4 L28.8,4.9 L26.0,6.9 L24.4,8.4 L18.1,19.1 L16.8,19.7 L15.8,19.1 L7.5,7.3 L5.2,7.3 Z" stroke="#188218" stroke-width="0.35" stroke-linejoin="round"/><circle cx="26.3" cy="13.2" r="0.9"/><circle cx="24.8" cy="20.8" r="0.95"/><path d="M19.6,21.6 L22.6,22.9 L20.4,24.8 Z" stroke="#188218" stroke-width="0.8" stroke-linejoin="round"/></g></svg>
<svg style="left:641.10px;top:508.60px" width="32" height="28" viewBox="0 0 32 28"><g fill="#188218"><path d="M4.8,6.4 L14.8,5.2 L14.7,6.7 L13.8,6.9 L17.0,15.3 L20.7,8.5 L19.3,8.4 L19.1,7.4 L28.8,4.9 L26.0,6.9 L24.4,8.4 L18.1,19.1 L16.8,19.7 L15.8,19.1 L7.5,7.3 L5.2,7.3 Z" stroke="#188218" stroke-width="0.35" stroke-linejoin="round"/><circle cx="26.3" cy="13.2" r="0.9"/><circle cx="24.8" cy="20.8" r="0.95"/><path d="M19.6,21.6 L22.6,22.9 L20.4,24.8 Z" stroke="#188218" stroke-width="0.8" stroke-linejoin="round"/></g></svg>
<svg style="left:237.75px;top:565.60px" width="21" height="18" viewBox="0 0 21 18"><g transform="translate(0.25,0.25) scale(0.965,0.965)" fill="#8b1519" stroke="#8b1519" stroke-width="0.52" stroke-linejoin="round"><path d="M1.9,0.2 L8.2,0.2 L8.2,1.6 L7.6,1.6 L18.2,15.2 L19.8,15.3 L19.8,16.8 L13.1,16.8 L13.1,15.3 L14.0,15.2 L3.9,1.6 L1.9,1.6 Z"/><path d="M12.0,0.0 L18.75,0.0 L18.75,1.5 L17.1,1.5 L5.0,15.2 L6.5,15.3 L6.5,16.8 L0,16.8 L0,15.3 L2.0,15.2 L14.0,1.5 L12.0,1.5 Z"/></g></svg>
<svg style="left:300.35px;top:565.60px" width="21" height="18" viewBox="0 0 21 18"><g transform="translate(0.25,0.25) scale(0.965,0.965)" fill="#8b1519" stroke="#8b1519" stroke-width="0.52" stroke-linejoin="round"><path d="M1.9,0.2 L8.2,0.2 L8.2,1.6 L7.6,1.6 L18.2,15.2 L19.8,15.3 L19.8,16.8 L13.1,16.8 L13.1,15.3 L14.0,15.2 L3.9,1.6 L1.9,1.6 Z"/><path d="M12.0,0.0 L18.75,0.0 L18.75,1.5 L17.1,1.5 L5.0,15.2 L6.5,15.3 L6.5,16.8 L0,16.8 L0,15.3 L2.0,15.2 L14.0,1.5 L12.0,1.5 Z"/></g></svg>
<svg style="left:366.35px;top:565.60px" width="21" height="18" viewBox="0 0 21 18"><g transform="translate(0.25,0.25) scale(0.965,0.965)" fill="#8b1519" stroke="#8b1519" stroke-width="0.52" stroke-linejoin="round"><path d="M1.9,0.2 L8.2,0.2 L8.2,1.6 L7.6,1.6 L18.2,15.2 L19.8,15.3 L19.8,16.8 L13.1,16.8 L13.1,15.3 L14.0,15.2 L3.9,1.6 L1.9,1.6 Z"/><path d="M12.0,0.0 L18.75,0.0 L18.75,1.5 L17.1,1.5 L5.0,15.2 L6.5,15.3 L6.5,16.8 L0,16.8 L0,15.3 L2.0,15.2 L14.0,1.5 L12.0,1.5 Z"/></g></svg>
<svg style="left:435.55px;top:565.60px" width="21" height="18" viewBox="0 0 21 18"><g transform="translate(0.25,0.25) scale(0.965,0.965)" fill="#8b1519" stroke="#8b1519" stroke-width="0.52" stroke-linejoin="round"><path d="M1.9,0.2 L8.2,0.2 L8.2,1.6 L7.6,1.6 L18.2,15.2 L19.8,15.3 L19.8,16.8 L13.1,16.8 L13.1,15.3 L14.0,15.2 L3.9,1.6 L1.9,1.6 Z"/><path d="M12.0,0.0 L18.75,0.0 L18.75,1.5 L17.1,1.5 L5.0,15.2 L6.5,15.3 L6.5,16.8 L0,16.8 L0,15.3 L2.0,15.2 L14.0,1.5 L12.0,1.5 Z"/></g></svg>
<svg style="left:574.25px;top:562.60px" width="26" height="23" viewBox="0 0 26 23"><path d="M6.65,1.1 L23.47,1.1 L18.25,20.8 L1.43,20.8 Z" fill="none" stroke="#f0673a" stroke-width="2.6"/></svg>
<svg style="left:237.75px;top:618.60px" width="21" height="18" viewBox="0 0 21 18"><g transform="translate(0.25,0.25) scale(0.965,0.965)" fill="#8b1519" stroke="#8b1519" stroke-width="0.52" stroke-linejoin="round"><path d="M1.9,0.2 L8.2,0.2 L8.2,1.6 L7.6,1.6 L18.2,15.2 L19.8,15.3 L19.8,16.8 L13.1,16.8 L13.1,15.3 L14.0,15.2 L3.9,1.6 L1.9,1.6 Z"/><path d="M12.0,0.0 L18.75,0.0 L18.75,1.5 L17.1,1.5 L5.0,15.2 L6.5,15.3 L6.5,16.8 L0,16.8 L0,15.3 L2.0,15.2 L14.0,1.5 L12.0,1.5 Z"/></g></svg>
<svg style="left:300.35px;top:618.60px" width="21" height="18" viewBox="0 0 21 18"><g transform="translate(0.25,0.25) scale(0.965,0.965)" fill="#8b1519" stroke="#8b1519" stroke-width="0.52" stroke-linejoin="round"><path d="M1.9,0.2 L8.2,0.2 L8.2,1.6 L7.6,1.6 L18.2,15.2 L19.8,15.3 L19.8,16.8 L13.1,16.8 L13.1,15.3 L14.0,15.2 L3.9,1.6 L1.9,1.6 Z"/><path d="M12.0,0.0 L18.75,0.0 L18.75,1.5 L17.1,1.5 L5.0,15.2 L6.5,15.3 L6.5,16.8 L0,16.8 L0,15.3 L2.0,15.2 L14.0,1.5 L12.0,1.5 Z"/></g></svg>
<svg style="left:366.35px;top:618.60px" width="21" height="18" viewBox="0 0 21 18"><g transform="translate(0.25,0.25) scale(0.965,0.965)" fill="#8b1519" stroke="#8b1519" stroke-width="0.52" stroke-linejoin="round"><path d="M1.9,0.2 L8.2,0.2 L8.2,1.6 L7.6,1.6 L18.2,15.2 L19.8,15.3 L19.8,16.8 L13.1,16.8 L13.1,15.3 L14.0,15.2 L3.9,1.6 L1.9,1.6 Z"/><path d="M12.0,0.0 L18.75,0.0 L18.75,1.5 L17.1,1.5 L5.0,15.2 L6.5,15.3 L6.5,16.8 L0,16.8 L0,15.3 L2.0,15.2 L14.0,1.5 L12.0,1.5 Z"/></g></svg>
<svg style="left:435.55px;top:618.60px" width="21" height="18" viewBox="0 0 21 18"><g transform="translate(0.25,0.25) scale(0.965,0.965)" fill="#8b1519" stroke="#8b1519" stroke-width="0.52" stroke-linejoin="round"><path d="M1.9,0.2 L8.2,0.2 L8.2,1.6 L7.6,1.6 L18.2,15.2 L19.8,15.3 L19.8,16.8 L13.1,16.8 L13.1,15.3 L14.0,15.2 L3.9,1.6 L1.9,1.6 Z"/><path d="M12.0,0.0 L18.75,0.0 L18.75,1.5 L17.1,1.5 L5.0,15.2 L6.5,15.3 L6.5,16.8 L0,16.8 L0,15.3 L2.0,15.2 L14.0,1.5 L12.0,1.5 Z"/></g></svg>
<svg style="left:500.45px;top:615.60px" width="26" height="23" viewBox="0 0 26 23"><path d="M6.65,1.1 L23.47,1.1 L18.25,20.8 L1.43,20.8 Z" fill="none" stroke="#f0673a" stroke-width="2.6"/></svg>
<svg style="left:570.20px;top:614.90px" width="32" height="28" viewBox="0 0 32 28"><g fill="#188218"><path d="M4.8,6.4 L14.8,5.2 L14.7,6.7 L13.8,6.9 L17.0,15.3 L20.7,8.5 L19.3,8.4 L19.1,7.4 L28.8,4.9 L26.0,6.9 L24.4,8.4 L18.1,19.1 L16.8,19.7 L15.8,19.1 L7.5,7.3 L5.2,7.3 Z" stroke="#188218" stroke-width="0.35" stroke-linejoin="round"/><circle cx="26.3" cy="13.2" r="0.9"/><circle cx="24.8" cy="20.8" r="0.95"/><path d="M19.6,21.6 L22.6,22.9 L20.4,24.8 Z" stroke="#188218" stroke-width="0.8" stroke-linejoin="round"/></g></svg>
<svg style="left:649.05px;top:618.60px" width="21" height="18" viewBox="0 0 21 18"><g transform="translate(0.25,0.25) scale(0.965,0.965)" fill="#8b1519" stroke="#8b1519" stroke-width="0.52" stroke-linejoin="round"><path d="M1.9,0.2 L8.2,0.2 L8.2,1.6 L7.6,1.6 L18.2,15.2 L19.8,15.3 L19.8,16.8 L13.1,16.8 L13.1,15.3 L14.0,15.2 L3.9,1.6 L1.9,1.6 Z"/><path d="M12.0,0.0 L18.75,0.0 L18.75,1.5 L17.1,1.5 L5.0,15.2 L6.5,15.3 L6.5,16.8 L0,16.8 L0,15.3 L2.0,15.2 L14.0,1.5 L12.0,1.5 Z"/></g></svg>
<svg style="left:230.70px;top:668.40px" width="32" height="28" viewBox="0 0 32 28"><g fill="#188218"><path d="M4.8,6.4 L14.8,5.2 L14.7,6.7 L13.8,6.9 L17.0,15.3 L20.7,8.5 L19.3,8.4 L19.1,7.4 L28.8,4.9 L26.0,6.9 L24.4,8.4 L18.1,19.1 L16.8,19.7 L15.8,19.1 L7.5,7.3 L5.2,7.3 Z" stroke="#188218" stroke-width="0.35" stroke-linejoin="round"/><circle cx="26.3" cy="13.2" r="0.9"/><circle cx="24.8" cy="20.8" r="0.95"/><path d="M19.6,21.6 L22.6,22.9 L20.4,24.8 Z" stroke="#188218" stroke-width="0.8" stroke-linejoin="round"/></g></svg>
<svg style="left:294.10px;top:668.40px" width="32" height="28" viewBox="0 0 32 28"><g fill="#188218"><path d="M4.8,6.4 L14.8,5.2 L14.7,6.7 L13.8,6.9 L17.0,15.3 L20.7,8.5 L19.3,8.4 L19.1,7.4 L28.8,4.9 L26.0,6.9 L24.4,8.4 L18.1,19.1 L16.8,19.7 L15.8,19.1 L7.5,7.3 L5.2,7.3 Z" stroke="#188218" stroke-width="0.35" stroke-linejoin="round"/><circle cx="26.3" cy="13.2" r="0.9"/><circle cx="24.8" cy="20.8" r="0.95"/><path d="M19.6,21.6 L22.6,22.9 L20.4,24.8 Z" stroke="#188218" stroke-width="0.8" stroke-linejoin="round"/></g></svg>
<svg style="left:359.70px;top:668.40px" width="32" height="28" viewBox="0 0 32 28"><g fill="#188218"><path d="M4.8,6.4 L14.8,5.2 L14.7,6.7 L13.8,6.9 L17.0,15.3 L20.7,8.5 L19.3,8.4 L19.1,7.4 L28.8,4.9 L26.0,6.9 L24.4,8.4 L18.1,19.1 L16.8,19.7 L15.8,19.1 L7.5,7.3 L5.2,7.3 Z" stroke="#188218" stroke-width="0.35" stroke-linejoin="round"/><circle cx="26.3" cy="13.2" r="0.9"/><circle cx="24.8" cy="20.8" r="0.95"/><path d="M19.6,21.6 L22.6,22.9 L20.4,24.8 Z" stroke="#188218" stroke-width="0.8" stroke-linejoin="round"/></g></svg>
<svg style="left:500.45px;top:669.10px" width="26" height="23" viewBox="0 0 26 23"><path d="M6.65,1.1 L23.47,1.1 L18.25,20.8 L1.43,20.8 Z" fill="none" stroke="#f0673a" stroke-width="2.6"/></svg>
<svg style="left:579.05px;top:672.10px" width="21" height="18" viewBox="0 0 21 18"><g transform="translate(0.25,0.25) scale(0.965,0.965)" fill="#8b1519" stroke="#8b1519" stroke-width="0.52" stroke-linejoin="round"><path d="M1.9,0.2 L8.2,0.2 L8.2,1.6 L7.6,1.6 L18.2,15.2 L19.8,15.3 L19.8,16.8 L13.1,16.8 L13.1,15.3 L14.0,15.2 L3.9,1.6 L1.9,1.6 Z"/><path d="M12.0,0.0 L18.75,0.0 L18.75,1.5 L17.1,1.5 L5.0,15.2 L6.5,15.3 L6.5,16.8 L0,16.8 L0,15.3 L2.0,15.2 L14.0,1.5 L12.0,1.5 Z"/></g></svg>
<svg style="left:646.95px;top:672.10px" width="21" height="18" viewBox="0 0 21 18"><g transform="translate(0.25,0.25) scale(0.965,0.965)" fill="#8b1519" stroke="#8b1519" stroke-width="0.52" stroke-linejoin="round"><path d="M1.9,0.2 L8.2,0.2 L8.2,1.6 L7.6,1.6 L18.2,15.2 L19.8,15.3 L19.8,16.8 L13.1,16.8 L13.1,15.3 L14.0,15.2 L3.9,1.6 L1.9,1.6 Z"/><path d="M12.0,0.0 L18.75,0.0 L18.75,1.5 L17.1,1.5 L5.0,15.2 L6.5,15.3 L6.5,16.8 L0,16.8 L0,15.3 L2.0,15.2 L14.0,1.5 L12.0,1.5 Z"/></g></svg>
<svg style="left:230.70px;top:721.70px" width="32" height="28" viewBox="0 0 32 28"><g fill="#188218"><path d="M4.8,6.4 L14.8,5.2 L14.7,6.7 L13.8,6.9 L17.0,15.3 L20.7,8.5 L19.3,8.4 L19.1,7.4 L28.8,4.9 L26.0,6.9 L24.4,8.4 L18.1,19.1 L16.8,19.7 L15.8,19.1 L7.5,7.3 L5.2,7.3 Z" stroke="#188218" stroke-width="0.35" stroke-linejoin="round"/><circle cx="26.3" cy="13.2" r="0.9"/><circle cx="24.8" cy="20.8" r="0.95"/><path d="M19.6,21.6 L22.6,22.9 L20.4,24.8 Z" stroke="#188218" stroke-width="0.8" stroke-linejoin="round"/></g></svg>
<svg style="left:294.10px;top:721.70px" width="32" height="28" viewBox="0 0 32 28"><g fill="#188218"><path d="M4.8,6.4 L14.8,5.2 L14.7,6.7 L13.8,6.9 L17.0,15.3 L20.7,8.5 L19.3,8.4 L19.1,7.4 L28.8,4.9 L26.0,6.9 L24.4,8.4 L18.1,19.1 L16.8,19.7 L15.8,19.1 L7.5,7.3 L5.2,7.3 Z" stroke="#188218" stroke-width="0.35" stroke-linejoin="round"/><circle cx="26.3" cy="13.2" r="0.9"/><circle cx="24.8" cy="20.8" r="0.95"/><path d="M19.6,21.6 L22.6,22.9 L20.4,24.8 Z" stroke="#188218" stroke-width="0.8" stroke-linejoin="round"/></g></svg>
<svg style="left:359.70px;top:721.70px" width="32" height="28" viewBox="0 0 32 28"><g fill="#188218"><path d="M4.8,6.4 L14.8,5.2 L14.7,6.7 L13.8,6.9 L17.0,15.3 L20.7,8.5 L19.3,8.4 L19.1,7.4 L28.8,4.9 L26.0,6.9 L24.4,8.4 L18.1,19.1 L16.8,19.7 L15.8,19.1 L7.5,7.3 L5.2,7.3 Z" stroke="#188218" stroke-width="0.35" stroke-linejoin="round"/><circle cx="26.3" cy="13.2" r="0.9"/><circle cx="24.8" cy="20.8" r="0.95"/><path d="M19.6,21.6 L22.6,22.9 L20.4,24.8 Z" stroke="#188218" stroke-width="0.8" stroke-linejoin="round"/></g></svg>
<svg style="left:501.80px;top:728.90px" width="14" height="16" viewBox="0 0 14 16"><rect x="0.8" y="0.8" width="11.2" height="13.2" fill="none" stroke="#7a1a9c" stroke-width="1.9"/></svg>
<svg style="left:502.60px;top:721.10px" width="32" height="28" viewBox="0 0 32 28"><g fill="#188218"><path d="M4.8,6.4 L14.8,5.2 L14.7,6.7 L13.8,6.9 L17.0,15.3 L20.7,8.5 L19.3,8.4 L19.1,7.4 L28.8,4.9 L26.0,6.9 L24.4,8.4 L18.1,19.1 L16.8,19.7 L15.8,19.1 L7.5,7.3 L5.2,7.3 Z" stroke="#188218" stroke-width="0.35" stroke-linejoin="round"/><circle cx="26.3" cy="13.2" r="0.9"/><circle cx="24.8" cy="20.8" r="0.95"/><path d="M19.6,21.6 L22.6,22.9 L20.4,24.8 Z" stroke="#188218" stroke-width="0.8" stroke-linejoin="round"/></g></svg>
<svg style="left:579.05px;top:725.40px" width="21" height="18" viewBox="0 0 21 18"><g transform="translate(0.25,0.25) scale(0.965,0.965)" fill="#8b1519" stroke="#8b1519" stroke-width="0.52" stroke-linejoin="round"><path d="M1.9,0.2 L8.2,0.2 L8.2,1.6 L7.6,1.6 L18.2,15.2 L19.8,15.3 L19.8,16.8 L13.1,16.8 L13.1,15.3 L14.0,15.2 L3.9,1.6 L1.9,1.6 Z"/><path d="M12.0,0.0 L18.75,0.0 L18.75,1.5 L17.1,1.5 L5.0,15.2 L6.5,15.3 L6.5,16.8 L0,16.8 L0,15.3 L2.0,15.2 L14.0,1.5 L12.0,1.5 Z"/></g></svg>
<svg style="left:237.75px;top:778.10px" width="21" height="18" viewBox="0 0 21 18"><g transform="translate(0.25,0.25) scale(0.965,0.965)" fill="#8b1519" stroke="#8b1519" stroke-width="0.52" stroke-linejoin="round"><path d="M1.9,0.2 L8.2,0.2 L8.2,1.6 L7.6,1.6 L18.2,15.2 L19.8,15.3 L19.8,16.8 L13.1,16.8 L13.1,15.3 L14.0,15.2 L3.9,1.6 L1.9,1.6 Z"/><path d="M12.0,0.0 L18.75,0.0 L18.75,1.5 L17.1,1.5 L5.0,15.2 L6.5,15.3 L6.5,16.8 L0,16.8 L0,15.3 L2.0,15.2 L14.0,1.5 L12.0,1.5 Z"/></g></svg>
<svg style="left:300.35px;top:778.10px" width="21" height="18" viewBox="0 0 21 18"><g transform="translate(0.25,0.25) scale(0.965,0.965)" fill="#8b1519" stroke="#8b1519" stroke-width="0.52" stroke-linejoin="round"><path d="M1.9,0.2 L8.2,0.2 L8.2,1.6 L7.6,1.6 L18.2,15.2 L19.8,15.3 L19.8,16.8 L13.1,16.8 L13.1,15.3 L14.0,15.2 L3.9,1.6 L1.9,1.6 Z"/><path d="M12.0,0.0 L18.75,0.0 L18.75,1.5 L17.1,1.5 L5.0,15.2 L6.5,15.3 L6.5,16.8 L0,16.8 L0,15.3 L2.0,15.2 L14.0,1.5 L12.0,1.5 Z"/></g></svg>
<svg style="left:366.35px;top:778.10px" width="21" height="18" viewBox="0 0 21 18"><g transform="translate(0.25,0.25) scale(0.965,0.965)" fill="#8b1519" stroke="#8b1519" stroke-width="0.52" stroke-linejoin="round"><path d="M1.9,0.2 L8.2,0.2 L8.2,1.6 L7.6,1.6 L18.2,15.2 L19.8,15.3 L19.8,16.8 L13.1,16.8 L13.1,15.3 L14.0,15.2 L3.9,1.6 L1.9,1.6 Z"/><path d="M12.0,0.0 L18.75,0.0 L18.75,1.5 L17.1,1.5 L5.0,15.2 L6.5,15.3 L6.5,16.8 L0,16.8 L0,15.3 L2.0,15.2 L14.0,1.5 L12.0,1.5 Z"/></g></svg>
<svg style="left:427.90px;top:775.60px" width="32" height="28" viewBox="0 0 32 28"><g fill="#188218"><path d="M4.8,6.4 L14.8,5.2 L14.7,6.7 L13.8,6.9 L17.0,15.3 L20.7,8.5 L19.3,8.4 L19.1,7.4 L28.8,4.9 L26.0,6.9 L24.4,8.4 L18.1,19.1 L16.8,19.7 L15.8,19.1 L7.5,7.3 L5.2,7.3 Z" stroke="#188218" stroke-width="0.35" stroke-linejoin="round"/><circle cx="26.3" cy="13.2" r="0.9"/><circle cx="24.8" cy="20.8" r="0.95"/><path d="M19.6,21.6 L22.6,22.9 L20.4,24.8 Z" stroke="#188218" stroke-width="0.8" stroke-linejoin="round"/></g></svg>
<svg style="left:500.45px;top:775.10px" width="26" height="23" viewBox="0 0 26 23"><path d="M6.65,1.1 L23.47,1.1 L18.25,20.8 L1.43,20.8 Z" fill="none" stroke="#f0673a" stroke-width="2.6"/></svg>
<svg style="left:640.50px;top:774.40px" width="32" height="28" viewBox="0 0 32 28"><g fill="#188218"><path d="M4.8,6.4 L14.8,5.2 L14.7,6.7 L13.8,6.9 L17.0,15.3 L20.7,8.5 L19.3,8.4 L19.1,7.4 L28.8,4.9 L26.0,6.9 L24.4,8.4 L18.1,19.1 L16.8,19.7 L15.8,19.1 L7.5,7.3 L5.2,7.3 Z" stroke="#188218" stroke-width="0.35" stroke-linejoin="round"/><circle cx="26.3" cy="13.2" r="0.9"/><circle cx="24.8" cy="20.8" r="0.95"/><path d="M19.6,21.6 L22.6,22.9 L20.4,24.8 Z" stroke="#188218" stroke-width="0.8" stroke-linejoin="round"/></g></svg>
<svg style="left:230.70px;top:829.50px" width="32" height="28" viewBox="0 0 32 28"><g fill="#188218"><path d="M4.8,6.4 L14.8,5.2 L14.7,6.7 L13.8,6.9 L17.0,15.3 L20.7,8.5 L19.3,8.4 L19.1,7.4 L28.8,4.9 L26.0,6.9 L24.4,8.4 L18.1,19.1 L16.8,19.7 L15.8,19.1 L7.5,7.3 L5.2,7.3 Z" stroke="#188218" stroke-width="0.35" stroke-linejoin="round"/><circle cx="26.3" cy="13.2" r="0.9"/><circle cx="24.8" cy="20.8" r="0.95"/><path d="M19.6,21.6 L22.6,22.9 L20.4,24.8 Z" stroke="#188218" stroke-width="0.8" stroke-linejoin="round"/></g></svg>
<svg style="left:294.10px;top:829.50px" width="32" height="28" viewBox="0 0 32 28"><g fill="#188218"><path d="M4.8,6.4 L14.8,5.2 L14.7,6.7 L13.8,6.9 L17.0,15.3 L20.7,8.5 L19.3,8.4 L19.1,7.4 L28.8,4.9 L26.0,6.9 L24.4,8.4 L18.1,19.1 L16.8,19.7 L15.8,19.1 L7.5,7.3 L5.2,7.3 Z" stroke="#188218" stroke-width="0.35" stroke-linejoin="round"/><circle cx="26.3" cy="13.2" r="0.9"/><circle cx="24.8" cy="20.8" r="0.95"/><path d="M19.6,21.6 L22.6,22.9 L20.4,24.8 Z" stroke="#188218" stroke-width="0.8" stroke-linejoin="round"/></g></svg>
<svg style="left:359.70px;top:829.50px" width="32" height="28" viewBox="0 0 32 28"><g fill="#188218"><path d="M4.8,6.4 L14.8,5.2 L14.7,6.7 L13.8,6.9 L17.0,15.3 L20.7,8.5 L19.3,8.4 L19.1,7.4 L28.8,4.9 L26.0,6.9 L24.4,8.4 L18.1,19.1 L16.8,19.7 L15.8,19.1 L7.5,7.3 L5.2,7.3 Z" stroke="#188218" stroke-width="0.35" stroke-linejoin="round"/><circle cx="26.3" cy="13.2" r="0.9"/><circle cx="24.8" cy="20.8" r="0.95"/><path d="M19.6,21.6 L22.6,22.9 L20.4,24.8 Z" stroke="#188218" stroke-width="0.8" stroke-linejoin="round"/></g></svg>
<svg style="left:501.80px;top:835.50px" width="14" height="16" viewBox="0 0 14 16"><rect x="0.8" y="0.8" width="11.2" height="13.2" fill="none" stroke="#7a1a9c" stroke-width="1.9"/></svg>
<svg style="left:502.60px;top:827.70px" width="32" height="28" viewBox="0 0 32 28"><g fill="#188218"><path d="M4.8,6.4 L14.8,5.2 L14.7,6.7 L13.8,6.9 L17.0,15.3 L20.7,8.5 L19.3,8.4 L19.1,7.4 L28.8,4.9 L26.0,6.9 L24.4,8.4 L18.1,19.1 L16.8,19.7 L15.8,19.1 L7.5,7.3 L5.2,7.3 Z" stroke="#188218" stroke-width="0.35" stroke-linejoin="round"/><circle cx="26.3" cy="13.2" r="0.9"/><circle cx="24.8" cy="20.8" r="0.95"/><path d="M19.6,21.6 L22.6,22.9 L20.4,24.8 Z" stroke="#188218" stroke-width="0.8" stroke-linejoin="round"/></g></svg>
<svg style="left:570.20px;top:828.30px" width="32" height="28" viewBox="0 0 32 28"><g fill="#188218"><path d="M4.8,6.4 L14.8,5.2 L14.7,6.7 L13.8,6.9 L17.0,15.3 L20.7,8.5 L19.3,8.4 L19.1,7.4 L28.8,4.9 L26.0,6.9 L24.4,8.4 L18.1,19.1 L16.8,19.7 L15.8,19.1 L7.5,7.3 L5.2,7.3 Z" stroke="#188218" stroke-width="0.35" stroke-linejoin="round"/><circle cx="26.3" cy="13.2" r="0.9"/><circle cx="24.8" cy="20.8" r="0.95"/><path d="M19.6,21.6 L22.6,22.9 L20.4,24.8 Z" stroke="#188218" stroke-width="0.8" stroke-linejoin="round"/></g></svg>
<svg style="left:640.50px;top:828.30px" width="32" height="28" viewBox="0 0 32 28"><g fill="#188218"><path d="M4.8,6.4 L14.8,5.2 L14.7,6.7 L13.8,6.9 L17.0,15.3 L20.7,8.5 L19.3,8.4 L19.1,7.4 L28.8,4.9 L26.0,6.9 L24.4,8.4 L18.1,19.1 L16.8,19.7 L15.8,19.1 L7.5,7.3 L5.2,7.3 Z" stroke="#188218" stroke-width="0.35" stroke-linejoin="round"/><circle cx="26.3" cy="13.2" r="0.9"/><circle cx="24.8" cy="20.8" r="0.95"/><path d="M19.6,21.6 L22.6,22.9 L20.4,24.8 Z" stroke="#188218" stroke-width="0.8" stroke-linejoin="round"/></g></svg>
<svg style="left:237.75px;top:896.50px" width="21" height="18" viewBox="0 0 21 18"><g transform="translate(0.25,0.25) scale(0.965,0.965)" fill="#8b1519" stroke="#8b1519" stroke-width="0.52" stroke-linejoin="round"><path d="M1.9,0.2 L8.2,0.2 L8.2,1.6 L7.6,1.6 L18.2,15.2 L19.8,15.3 L19.8,16.8 L13.1,16.8 L13.1,15.3 L14.0,15.2 L3.9,1.6 L1.9,1.6 Z"/><path d="M12.0,0.0 L18.75,0.0 L18.75,1.5 L17.1,1.5 L5.0,15.2 L6.5,15.3 L6.5,16.8 L0,16.8 L0,15.3 L2.0,15.2 L14.0,1.5 L12.0,1.5 Z"/></g></svg>
<svg style="left:300.35px;top:896.50px" width="21" height="18" viewBox="0 0 21 18"><g transform="translate(0.25,0.25) scale(0.965,0.965)" fill="#8b1519" stroke="#8b1519" stroke-width="0.52" stroke-linejoin="round"><path d="M1.9,0.2 L8.2,0.2 L8.2,1.6 L7.6,1.6 L18.2,15.2 L19.8,15.3 L19.8,16.8 L13.1,16.8 L13.1,15.3 L14.0,15.2 L3.9,1.6 L1.9,1.6 Z"/><path d="M12.0,0.0 L18.75,0.0 L18.75,1.5 L17.1,1.5 L5.0,15.2 L6.5,15.3 L6.5,16.8 L0,16.8 L0,15.3 L2.0,15.2 L14.0,1.5 L12.0,1.5 Z"/></g></svg>
<svg style="left:366.35px;top:896.50px" width="21" height="18" viewBox="0 0 21 18"><g transform="translate(0.25,0.25) scale(0.965,0.965)" fill="#8b1519" stroke="#8b1519" stroke-width="0.52" stroke-linejoin="round"><path d="M1.9,0.2 L8.2,0.2 L8.2,1.6 L7.6,1.6 L18.2,15.2 L19.8,15.3 L19.8,16.8 L13.1,16.8 L13.1,15.3 L14.0,15.2 L3.9,1.6 L1.9,1.6 Z"/><path d="M12.0,0.0 L18.75,0.0 L18.75,1.5 L17.1,1.5 L5.0,15.2 L6.5,15.3 L6.5,16.8 L0,16.8 L0,15.3 L2.0,15.2 L14.0,1.5 L12.0,1.5 Z"/></g></svg>
<svg style="left:501.80px;top:900.00px" width="14" height="16" viewBox="0 0 14 16"><rect x="0.8" y="0.8" width="11.2" height="13.2" fill="none" stroke="#7a1a9c" stroke-width="1.9"/></svg>
<svg style="left:502.60px;top:892.20px" width="32" height="28" viewBox="0 0 32 28"><g fill="#188218"><path d="M4.8,6.4 L14.8,5.2 L14.7,6.7 L13.8,6.9 L17.0,15.3 L20.7,8.5 L19.3,8.4 L19.1,7.4 L28.8,4.9 L26.0,6.9 L24.4,8.4 L18.1,19.1 L16.8,19.7 L15.8,19.1 L7.5,7.3 L5.2,7.3 Z" stroke="#188218" stroke-width="0.35" stroke-linejoin="round"/><circle cx="26.3" cy="13.2" r="0.9"/><circle cx="24.8" cy="20.8" r="0.95"/><path d="M19.6,21.6 L22.6,22.9 L20.4,24.8 Z" stroke="#188218" stroke-width="0.8" stroke-linejoin="round"/></g></svg>
<svg style="left:579.05px;top:896.50px" width="21" height="18" viewBox="0 0 21 18"><g transform="translate(0.25,0.25) scale(0.965,0.965)" fill="#8b1519" stroke="#8b1519" stroke-width="0.52" stroke-linejoin="round"><path d="M1.9,0.2 L8.2,0.2 L8.2,1.6 L7.6,1.6 L18.2,15.2 L19.8,15.3 L19.8,16.8 L13.1,16.8 L13.1,15.3 L14.0,15.2 L3.9,1.6 L1.9,1.6 Z"/><path d="M12.0,0.0 L18.75,0.0 L18.75,1.5 L17.1,1.5 L5.0,15.2 L6.5,15.3 L6.5,16.8 L0,16.8 L0,15.3 L2.0,15.2 L14.0,1.5 L12.0,1.5 Z"/></g></svg>
<svg style="left:646.95px;top:896.50px" width="21" height="18" viewBox="0 0 21 18"><g transform="translate(0.25,0.25) scale(0.965,0.965)" fill="#8b1519" stroke="#8b1519" stroke-width="0.52" stroke-linejoin="round"><path d="M1.9,0.2 L8.2,0.2 L8.2,1.6 L7.6,1.6 L18.2,15.2 L19.8,15.3 L19.8,16.8 L13.1,16.8 L13.1,15.3 L14.0,15.2 L3.9,1.6 L1.9,1.6 Z"/><path d="M12.0,0.0 L18.75,0.0 L18.75,1.5 L17.1,1.5 L5.0,15.2 L6.5,15.3 L6.5,16.8 L0,16.8 L0,15.3 L2.0,15.2 L14.0,1.5 L12.0,1.5 Z"/></g></svg>
<svg style="left:0;top:0" width="712" height="991" viewBox="0 0 712 991"><text class="hd" transform="translate(22.90,72.90) scale(0.7827,1)" style="font-size:16.00px;letter-spacing:0.60px;">ПРАВА&#160;и&#160;СВОБОДЫ</text>
<text class="hd" transform="translate(227.40,48.10) scale(0.7425,1)" style="font-size:18.20px;letter-spacing:0.80px;">СОЦИАЛЬНЫЕ</text>
<text class="hd" transform="translate(343.40,48.10) scale(0.7487,1)" style="font-size:18.20px;letter-spacing:0.80px;">ИНСТИТУТЫ</text>
<text class="hd" transform="translate(525.60,48.10) scale(0.8399,1)" style="font-size:18.20px;letter-spacing:0.80px;">ПЕРСОНАЛИИ</text>
<text class="lb" transform="translate(224.30,72.20) scale(0.8310,1)" style="font-size:15.70px;letter-spacing:0.60px;">Армия</text>
<text class="lb" transform="translate(283.10,72.20) scale(0.8271,1)" style="font-size:15.70px;letter-spacing:0.60px;">Тюрьма</text>
<text class="lb" transform="translate(348.50,72.20) scale(0.8071,1)" style="font-size:15.70px;letter-spacing:0.60px;">Рабство</text>
<text class="lb" transform="translate(429.90,72.20) scale(0.8178,1)" style="font-size:15.70px;letter-spacing:0.60px;">Брак</text>
<text class="lb" transform="translate(491.40,72.20) scale(0.8212,1)" style="font-size:15.70px;letter-spacing:0.60px;">Собака</text>
<text class="lb" transform="translate(555.90,72.20) scale(0.8023,1)" style="font-size:15.70px;letter-spacing:0.60px;">«МужЫк»</text>
<text class="lb" transform="translate(633.10,72.20) scale(0.8256,1)" style="font-size:15.70px;letter-spacing:0.60px;">Шлюха</text>
<text class="lb" transform="translate(22.40,99.00) scale(0.8331,1)" style="font-size:15.70px;letter-spacing:0.70px;">Свобода&#160;действий&#160;и</text>
<text class="lb" transform="translate(22.40,116.90) scale(0.8417,1)" style="font-size:15.70px;letter-spacing:0.70px;">перемещения</text>
<text class="lb" transform="translate(22.40,152.00) scale(0.8411,1)" style="font-size:15.70px;letter-spacing:0.70px;">Это&#160;плюс&#160;для&#160;биографии,</text>
<text class="lb" transform="translate(22.40,169.90) scale(0.8339,1)" style="font-size:15.70px;letter-spacing:0.70px;">общественное&#160;одобрение</text>
<text class="lb" transform="translate(22.40,205.30) scale(0.8507,1)" style="font-size:15.70px;letter-spacing:0.70px;">Может&#160;реально&#160;помочь</text>
<text class="lb" transform="translate(22.40,223.20) scale(0.8400,1)" style="font-size:15.70px;letter-spacing:0.70px;">карьере</text>
<text class="lb" transform="translate(22.40,258.30) scale(0.8504,1)" style="font-size:15.70px;letter-spacing:0.70px;">Нормально&#160;&#160;кормят</text>
<text class="lb" transform="translate(22.40,311.80) scale(0.8288,1)" style="font-size:15.70px;letter-spacing:0.70px;">Хорошие&#160;бытовые</text>
<text class="lb" transform="translate(22.40,329.70) scale(0.8253,1)" style="font-size:15.70px;letter-spacing:0.70px;">условия</text>
<text class="lb" transform="translate(22.40,365.30) scale(0.8627,1)" style="font-size:15.70px;letter-spacing:0.70px;">Твое&#160;мнение&#160;значимо</text>
<text class="lb" transform="translate(22.40,418.10) scale(0.8413,1)" style="font-size:15.70px;letter-spacing:0.70px;">Выполнение&#160;чужих</text>
<text class="lb" transform="translate(22.40,436.00) scale(0.8580,1)" style="font-size:15.70px;letter-spacing:0.70px;">указаний</text>
<text class="lb" transform="translate(22.40,471.00) scale(0.8583,1)" style="font-size:15.70px;letter-spacing:0.70px;">Твое&#160;имя&#160;могут&#160;заменить</text>
<text class="lb" transform="translate(22.40,488.90) scale(0.8690,1)" style="font-size:15.70px;letter-spacing:0.70px;">кличкой</text>
<text class="lb" transform="translate(22.40,524.60) scale(0.8548,1)" style="font-size:15.70px;letter-spacing:0.70px;">Наличие&#160;права&#160;на&#160;секс</text>
<text class="lb" transform="translate(22.40,577.90) scale(0.8365,1)" style="font-size:15.70px;letter-spacing:0.70px;">Право&#160;на&#160;свободный&#160;секс</text>
<text class="lb" transform="translate(22.40,630.90) scale(0.8378,1)" style="font-size:15.70px;letter-spacing:0.70px;">Это&#160;весомый&#160;повод&#160;для</text>
<text class="lb" transform="translate(22.40,648.80) scale(0.8392,1)" style="font-size:15.70px;letter-spacing:0.70px;">гордости</text>
<text class="lb" transform="translate(22.40,684.40) scale(0.8528,1)" style="font-size:15.70px;letter-spacing:0.70px;">Тебя&#160;к&#160;этому&#160;обязали</text>
<text class="lb" transform="translate(22.40,737.70) scale(0.8340,1)" style="font-size:15.70px;letter-spacing:0.70px;">Если&#160;исчезнешь,&#160;будут</text>
<text class="lb" transform="translate(22.40,755.60) scale(0.8405,1)" style="font-size:15.70px;letter-spacing:0.70px;">искать</text>
<text class="lb" transform="translate(22.40,790.40) scale(0.8285,1)" style="font-size:15.70px;letter-spacing:0.70px;">Есть&#160;выбор,&#160;что&#160;надеть</text>
<text class="lb" transform="translate(22.40,844.00) scale(0.8490,1)" style="font-size:15.70px;letter-spacing:0.70px;">обязаны&#160;откликаться,</text>
<text class="lb" transform="translate(22.40,863.00) scale(0.8429,1)" style="font-size:15.70px;letter-spacing:0.70px;">если&#160;в&#160;вам&#160;обращаются</text>
<text class="lb" transform="translate(22.40,882.00) scale(0.8439,1)" style="font-size:15.70px;letter-spacing:0.70px;">Старшие&#160;и&#160;Главные</text>
<text class="lb" transform="translate(22.40,908.80) scale(0.8532,1)" style="font-size:15.70px;letter-spacing:0.70px;">Твоя&#160;жизнь&#160;имеет</text>
<text class="lb" transform="translate(22.40,926.70) scale(0.8265,1)" style="font-size:15.70px;letter-spacing:0.70px;">ценность</text>
<text class="sr" transform="translate(235.60,124.10) scale(1.0194,1)" style="font-size:14.80px;fill:#6e1414;">нет</text>
<text class="sr" transform="translate(298.60,124.10) scale(1.0462,1)" style="font-size:14.80px;fill:#6e1414;">нет</text>
<text class="sr" transform="translate(363.60,124.10) scale(1.0999,1)" style="font-size:14.80px;fill:#6e1414;">нет</text>
<text class="sr" transform="translate(433.80,124.10) scale(1.0462,1)" style="font-size:14.80px;fill:#6e1414;">нет</text>
<text class="sr" transform="translate(499.60,124.10) scale(1.0302,1)" style="font-size:14.80px;fill:#6e1414;">цепь</text>
<text class="sr" transform="translate(575.50,124.10) scale(1.0462,1)" style="font-size:14.80px;fill:#6e1414;">нет</text>
<text class="sr" transform="translate(648.80,125.70) scale(1.1696,1)" style="font-size:13.60px;fill:#1a7a36;">да</text>
<text class="sr" transform="translate(238.60,178.70) scale(1.1696,1)" style="font-size:13.60px;fill:#1a7a36;">да</text>
<text class="sr" transform="translate(298.60,177.10) scale(1.0462,1)" style="font-size:14.80px;fill:#6e1414;">нет</text>
<text class="ss" transform="translate(369.04,157.70) scale(1.0000,1)" style="font-size:20.60px;fill:#2323cc;">%</text>
<text class="sr" transform="translate(351.10,176.60) scale(0.9671,1)" style="font-size:15.00px;fill:#2020b8;">не&#160;факт</text>
<text class="sr" transform="translate(437.70,178.70) scale(1.1696,1)" style="font-size:13.60px;fill:#1a7a36;">да</text>
<text class="sr" transform="translate(506.00,177.40) scale(0.9432,1)" style="font-size:15.60px;fill:#4f1580;">н.д</text>
<text class="sr" transform="translate(576.80,178.70) scale(1.1696,1)" style="font-size:13.60px;fill:#1a7a36;">да</text>
<text class="sr" transform="translate(645.90,177.10) scale(1.0194,1)" style="font-size:14.80px;fill:#6e1414;">нет</text>
<text class="sr" transform="translate(235.60,230.40) scale(1.0194,1)" style="font-size:14.80px;fill:#6e1414;">нет</text>
<text class="sr" transform="translate(302.10,232.00) scale(1.1696,1)" style="font-size:13.60px;fill:#1a7a36;">да</text>
<text class="sr" transform="translate(363.60,230.40) scale(1.0999,1)" style="font-size:14.80px;fill:#6e1414;">нет</text>
<text class="sr" transform="translate(433.80,230.40) scale(1.0462,1)" style="font-size:14.80px;fill:#6e1414;">нет</text>
<text class="sr" transform="translate(504.40,230.40) scale(1.0194,1)" style="font-size:14.80px;fill:#6e1414;">нет</text>
<text class="sr" transform="translate(575.50,230.40) scale(1.0462,1)" style="font-size:14.80px;fill:#6e1414;">нет</text>
<text class="sr" transform="translate(648.80,232.00) scale(1.1696,1)" style="font-size:13.60px;fill:#1a7a36;">да</text>
<text class="sr" transform="translate(235.60,283.40) scale(1.0194,1)" style="font-size:14.80px;fill:#6e1414;">нет</text>
<text class="sr" transform="translate(298.60,283.40) scale(1.0462,1)" style="font-size:14.80px;fill:#6e1414;">нет</text>
<text class="sr" transform="translate(363.60,283.40) scale(1.0999,1)" style="font-size:14.80px;fill:#6e1414;">нет</text>
<text class="sr" transform="translate(433.80,283.40) scale(1.0462,1)" style="font-size:14.80px;fill:#6e1414;">нет</text>
<text class="sr" transform="translate(507.40,285.00) scale(1.1696,1)" style="font-size:13.60px;fill:#1a7a36;">да</text>
<text class="sr" transform="translate(575.50,283.40) scale(1.0462,1)" style="font-size:14.80px;fill:#6e1414;">нет</text>
<text class="sr" transform="translate(648.80,285.00) scale(1.1696,1)" style="font-size:13.60px;fill:#1a7a36;">да</text>
<text class="sr" transform="translate(235.60,336.90) scale(1.0194,1)" style="font-size:14.80px;fill:#6e1414;">нет</text>
<text class="sr" transform="translate(298.60,336.90) scale(1.0462,1)" style="font-size:14.80px;fill:#6e1414;">нет</text>
<text class="sr" transform="translate(363.60,336.90) scale(1.0999,1)" style="font-size:14.80px;fill:#6e1414;">нет</text>
<text class="ss" transform="translate(436.84,317.50) scale(1.0000,1)" style="font-size:20.60px;fill:#2323cc;">%</text>
<text class="sr" transform="translate(417.80,336.40) scale(0.9823,1)" style="font-size:15.00px;fill:#2020b8;">не&#160;факт</text>
<text class="sr" transform="translate(507.40,338.50) scale(1.1696,1)" style="font-size:13.60px;fill:#1a7a36;">да</text>
<text class="sr" transform="translate(575.50,336.90) scale(1.0462,1)" style="font-size:14.80px;fill:#6e1414;">нет</text>
<text class="sr" transform="translate(648.80,338.50) scale(1.1696,1)" style="font-size:13.60px;fill:#1a7a36;">да</text>
<text class="sr" transform="translate(235.60,390.40) scale(1.0194,1)" style="font-size:14.80px;fill:#6e1414;">нет</text>
<text class="sr" transform="translate(298.60,390.40) scale(1.0462,1)" style="font-size:14.80px;fill:#6e1414;">нет</text>
<text class="sr" transform="translate(363.60,390.40) scale(1.0999,1)" style="font-size:14.80px;fill:#6e1414;">нет</text>
<text class="sr" transform="translate(433.80,390.40) scale(1.0462,1)" style="font-size:14.80px;fill:#6e1414;">нет</text>
<text class="sr" transform="translate(507.40,390.60) scale(1.1362,1)" style="font-size:14.00px;fill:#6e1414;">да</text>
<text class="sr" transform="translate(575.50,390.40) scale(1.0462,1)" style="font-size:14.80px;fill:#6e1414;">нет</text>
<text class="sr" transform="translate(632.55,390.70) scale(1.0403,1)" style="font-size:15.60px;fill:#4f1580;">похеру</text>
<text class="sr" transform="translate(238.60,444.80) scale(1.1696,1)" style="font-size:13.60px;fill:#1a7a36;">да</text>
<text class="sr" transform="translate(302.10,444.80) scale(1.1696,1)" style="font-size:13.60px;fill:#1a7a36;">да</text>
<text class="sr" transform="translate(367.50,444.80) scale(1.1696,1)" style="font-size:13.60px;fill:#1a7a36;">да</text>
<text class="sr" transform="translate(437.70,444.80) scale(1.1696,1)" style="font-size:13.60px;fill:#1a7a36;">да</text>
<text class="sr" transform="translate(491.40,443.50) scale(1.0254,1)" style="font-size:15.60px;fill:#4f1580;">похеру</text>
<text class="sr" transform="translate(579.00,444.80) scale(1.1696,1)" style="font-size:13.60px;fill:#1a7a36;">да</text>
<text class="sr" transform="translate(648.80,444.80) scale(1.1696,1)" style="font-size:13.60px;fill:#1a7a36;">да</text>
<text class="sr" transform="translate(238.60,497.70) scale(1.1696,1)" style="font-size:13.60px;fill:#1a7a36;">да</text>
<text class="sr" transform="translate(302.10,497.70) scale(1.1696,1)" style="font-size:13.60px;fill:#1a7a36;">да</text>
<text class="sr" transform="translate(367.50,497.70) scale(1.1696,1)" style="font-size:13.60px;fill:#1a7a36;">да</text>
<text class="sr" transform="translate(437.70,497.70) scale(1.1696,1)" style="font-size:13.60px;fill:#1a7a36;">да</text>
<text class="sr" transform="translate(491.40,496.40) scale(1.0254,1)" style="font-size:15.60px;fill:#4f1580;">похеру</text>
<text class="sr" transform="translate(579.00,497.70) scale(1.1696,1)" style="font-size:13.60px;fill:#1a7a36;">да</text>
<text class="sr" transform="translate(648.80,497.70) scale(1.1696,1)" style="font-size:13.60px;fill:#1a7a36;">да</text>
<text class="sr" transform="translate(235.60,549.70) scale(1.0194,1)" style="font-size:14.80px;fill:#6e1414;">нет</text>
<text class="sr" transform="translate(283.25,549.20) scale(0.9804,1)" style="font-size:15.00px;fill:#c25a12;">не&#160;факт</text>
<text class="ss" transform="translate(367.84,530.30) scale(1.0000,1)" style="font-size:20.60px;fill:#2323cc;">%</text>
<text class="sr" transform="translate(348.40,549.20) scale(1.0540,1)" style="font-size:15.00px;fill:#2020b8;">не&#160;факт</text>
<text class="ss" transform="translate(436.84,530.30) scale(1.0000,1)" style="font-size:20.60px;fill:#2323cc;">%</text>
<text class="sr" transform="translate(417.80,549.20) scale(1.0389,1)" style="font-size:15.00px;fill:#2020b8;">не&#160;факт</text>
<text class="sr" transform="translate(507.40,551.30) scale(1.1696,1)" style="font-size:13.60px;fill:#1a7a36;">да</text>
<text class="ss" transform="translate(578.04,530.30) scale(1.0000,1)" style="font-size:20.60px;fill:#2323cc;">%</text>
<text class="sr" transform="translate(559.80,549.20) scale(1.0163,1)" style="font-size:15.00px;fill:#2020b8;">не&#160;факт</text>
<text class="sr" transform="translate(648.80,551.30) scale(1.1696,1)" style="font-size:13.60px;fill:#1a7a36;">да</text>
<text class="sr" transform="translate(235.60,603.00) scale(1.0194,1)" style="font-size:14.80px;fill:#6e1414;">нет</text>
<text class="sr" transform="translate(298.60,603.00) scale(1.0462,1)" style="font-size:14.80px;fill:#6e1414;">нет</text>
<text class="sr" transform="translate(364.20,603.00) scale(1.0462,1)" style="font-size:14.80px;fill:#6e1414;">нет</text>
<text class="sr" transform="translate(433.80,603.00) scale(1.0462,1)" style="font-size:14.80px;fill:#6e1414;">нет</text>
<text class="ss" transform="translate(506.34,583.60) scale(1.0000,1)" style="font-size:20.60px;fill:#2323cc;">%</text>
<text class="sr" transform="translate(487.25,602.50) scale(1.0635,1)" style="font-size:15.00px;fill:#2020b8;">не&#160;факт</text>
<text class="sr" transform="translate(563.10,603.30) scale(1.0254,1)" style="font-size:15.60px;fill:#4f1580;">похеру</text>
<text class="ss" transform="translate(650.54,583.60) scale(1.0000,1)" style="font-size:20.60px;fill:#2323cc;">%</text>
<text class="sr" transform="translate(629.95,602.50) scale(1.0144,1)" style="font-size:15.00px;fill:#2020b8;">не&#160;факт</text>
<text class="sr" transform="translate(235.60,656.00) scale(1.0194,1)" style="font-size:14.80px;fill:#6e1414;">нет</text>
<text class="sr" transform="translate(298.60,656.00) scale(1.0462,1)" style="font-size:14.80px;fill:#6e1414;">нет</text>
<text class="sr" transform="translate(364.20,656.00) scale(1.0462,1)" style="font-size:14.80px;fill:#6e1414;">нет</text>
<text class="sr" transform="translate(433.80,656.00) scale(1.0462,1)" style="font-size:14.80px;fill:#6e1414;">нет</text>
<text class="sr" transform="translate(491.40,656.30) scale(1.0254,1)" style="font-size:15.60px;fill:#4f1580;">похеру</text>
<text class="sr" transform="translate(575.45,656.60) scale(1.0060,1)" style="font-size:14.80px;fill:#1a7a36;">нет</text>
<text class="sr" transform="translate(645.90,656.00) scale(1.0194,1)" style="font-size:14.80px;fill:#6e1414;">нет</text>
<text class="sr" transform="translate(238.60,711.10) scale(1.1696,1)" style="font-size:13.60px;fill:#1a7a36;">да</text>
<text class="sr" transform="translate(302.10,711.10) scale(1.1696,1)" style="font-size:13.60px;fill:#1a7a36;">да</text>
<text class="sr" transform="translate(367.50,711.10) scale(1.1696,1)" style="font-size:13.60px;fill:#1a7a36;">да</text>
<text class="ss" transform="translate(436.84,690.10) scale(1.0000,1)" style="font-size:20.60px;fill:#2323cc;">%</text>
<text class="sr" transform="translate(417.80,709.00) scale(1.0389,1)" style="font-size:15.00px;fill:#2020b8;">не&#160;факт</text>
<text class="sr" transform="translate(491.40,709.80) scale(1.0254,1)" style="font-size:15.60px;fill:#4f1580;">похеру</text>
<text class="sr" transform="translate(575.45,709.50) scale(1.0060,1)" style="font-size:14.80px;fill:#6e1414;">нет</text>
<text class="sr" transform="translate(644.55,709.50) scale(0.9791,1)" style="font-size:14.80px;fill:#6e1414;">нет</text>
<text class="sr" transform="translate(238.60,764.40) scale(1.1696,1)" style="font-size:13.60px;fill:#1a7a36;">да</text>
<text class="sr" transform="translate(302.10,764.40) scale(1.1696,1)" style="font-size:13.60px;fill:#1a7a36;">да</text>
<text class="sr" transform="translate(367.50,764.40) scale(1.1696,1)" style="font-size:13.60px;fill:#1a7a36;">да</text>
<text class="ss" transform="translate(436.84,743.40) scale(1.0000,1)" style="font-size:20.60px;fill:#2323cc;">%</text>
<text class="sr" transform="translate(417.80,762.30) scale(1.0389,1)" style="font-size:15.00px;fill:#2020b8;">не&#160;факт</text>
<text class="ss" transform="translate(506.15,763.40) scale(1.0022,1)" style="font-size:15.50px;fill:#188218;">да</text>
<text class="sr" transform="translate(575.45,762.80) scale(1.0060,1)" style="font-size:14.80px;fill:#6e1414;">нет</text>
<text class="ss" transform="translate(653.64,743.40) scale(1.0000,1)" style="font-size:20.60px;fill:#2323cc;">%</text>
<text class="sr" transform="translate(629.95,762.30) scale(1.0144,1)" style="font-size:15.00px;fill:#2020b8;">не&#160;факт</text>
<text class="sr" transform="translate(235.60,815.50) scale(1.0194,1)" style="font-size:14.80px;fill:#6e1414;">нет</text>
<text class="sr" transform="translate(298.60,815.50) scale(1.0462,1)" style="font-size:14.80px;fill:#6e1414;">нет</text>
<text class="sr" transform="translate(363.90,815.50) scale(1.0730,1)" style="font-size:14.80px;fill:#6e1414;">нет</text>
<text class="sr" transform="translate(436.20,817.90) scale(1.1696,1)" style="font-size:13.60px;fill:#1a7a36;">да</text>
<text class="sr" transform="translate(491.40,815.80) scale(1.0254,1)" style="font-size:15.60px;fill:#4f1580;">похеру</text>
<text class="ss" transform="translate(578.04,796.10) scale(1.0000,1)" style="font-size:20.60px;fill:#2323cc;">%</text>
<text class="sr" transform="translate(559.80,815.00) scale(1.0163,1)" style="font-size:15.00px;fill:#2020b8;">не&#160;факт</text>
<text class="sr" transform="translate(646.70,817.90) scale(1.1696,1)" style="font-size:13.60px;fill:#1a7a36;">да</text>
<text class="sr" transform="translate(238.60,871.00) scale(1.1696,1)" style="font-size:13.60px;fill:#1a7a36;">да</text>
<text class="sr" transform="translate(302.10,871.00) scale(1.1696,1)" style="font-size:13.60px;fill:#1a7a36;">да</text>
<text class="sr" transform="translate(367.50,871.00) scale(1.1696,1)" style="font-size:13.60px;fill:#1a7a36;">да</text>
<text class="ss" transform="translate(436.84,850.00) scale(1.0000,1)" style="font-size:20.60px;fill:#2323cc;">%</text>
<text class="sr" transform="translate(417.80,868.90) scale(1.0389,1)" style="font-size:15.00px;fill:#2020b8;">не&#160;факт</text>
<text class="ss" transform="translate(506.15,870.00) scale(1.0022,1)" style="font-size:15.50px;fill:#188218;">да</text>
<text class="ss" transform="translate(577.70,870.00) scale(1.0076,1)" style="font-size:15.50px;fill:#188218;">да</text>
<text class="ss" transform="translate(647.80,870.00) scale(1.0076,1)" style="font-size:15.50px;fill:#188218;">да</text>
<text class="sr" transform="translate(235.60,933.90) scale(1.0194,1)" style="font-size:14.80px;fill:#6e1414;">нет</text>
<text class="sr" transform="translate(298.60,933.90) scale(1.0462,1)" style="font-size:14.80px;fill:#6e1414;">нет</text>
<text class="sr" transform="translate(363.90,933.90) scale(1.0730,1)" style="font-size:14.80px;fill:#6e1414;">нет</text>
<text class="ss" transform="translate(436.84,914.50) scale(1.0000,1)" style="font-size:20.60px;fill:#2323cc;">%</text>
<text class="sr" transform="translate(421.20,933.40) scale(1.0665,1)" style="font-size:15.00px;fill:#2020b8;">не&#160;фак</text>
<text class="ss" transform="translate(506.15,934.50) scale(1.0022,1)" style="font-size:15.50px;fill:#188218;">да</text>
<text class="sr" transform="translate(575.45,933.90) scale(1.0060,1)" style="font-size:14.80px;fill:#6e1414;">нет</text>
<text class="sr" transform="translate(644.55,933.90) scale(0.9791,1)" style="font-size:14.80px;fill:#6e1414;">нет</text></svg>
</body></html>
